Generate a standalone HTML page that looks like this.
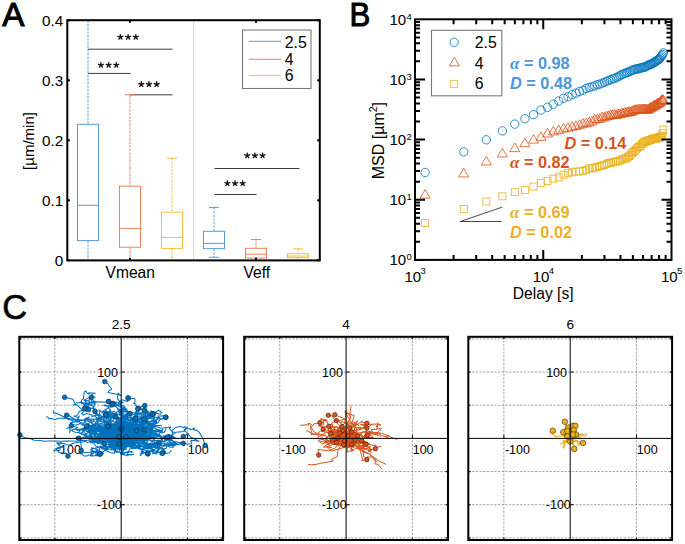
<!DOCTYPE html>
<html><head><meta charset="utf-8"><style>
html,body{margin:0;padding:0;background:#fff;}
svg{display:block;}
text{font-family:"Liberation Sans",sans-serif;}
</style></head><body>
<svg width="685" height="544" viewBox="0 0 685 544">
<rect width="685" height="544" fill="#fff"/>
<text x="2.20" y="26.00" font-size="33.2" text-anchor="start" font-weight="normal" font-style="normal" fill="#000" stroke="#000" stroke-width="1.0">A</text>
<line x1="193.60" y1="20.20" x2="193.60" y2="260.40" stroke="#d9d9d9" stroke-width="1" />
<line x1="88.00" y1="49.20" x2="172.50" y2="49.20" stroke="#3a3a3a" stroke-width="1" />
<line x1="88.00" y1="73.40" x2="130.50" y2="73.40" stroke="#3a3a3a" stroke-width="1" />
<line x1="130.00" y1="94.80" x2="172.50" y2="94.80" stroke="#3a3a3a" stroke-width="1" />
<line x1="214.50" y1="168.50" x2="299.50" y2="168.50" stroke="#3a3a3a" stroke-width="1" />
<line x1="214.50" y1="194.50" x2="256.50" y2="194.50" stroke="#3a3a3a" stroke-width="1" />
<path d="M120.40,37.10l0.00,-2.55M120.40,37.10l2.43,-0.79M120.40,37.10l1.50,2.06M120.40,37.10l-1.50,2.06M120.40,37.10l-2.43,-0.79M128.10,37.10l0.00,-2.55M128.10,37.10l2.43,-0.79M128.10,37.10l1.50,2.06M128.10,37.10l-1.50,2.06M128.10,37.10l-2.43,-0.79M135.80,37.10l0.00,-2.55M135.80,37.10l2.43,-0.79M135.80,37.10l1.50,2.06M135.80,37.10l-1.50,2.06M135.80,37.10l-2.43,-0.79" stroke="#111" stroke-width="1.35" stroke-linecap="round" fill="none"/>
<path d="M100.90,65.10l0.00,-2.55M100.90,65.10l2.43,-0.79M100.90,65.10l1.50,2.06M100.90,65.10l-1.50,2.06M100.90,65.10l-2.43,-0.79M108.60,65.10l0.00,-2.55M108.60,65.10l2.43,-0.79M108.60,65.10l1.50,2.06M108.60,65.10l-1.50,2.06M108.60,65.10l-2.43,-0.79M116.30,65.10l0.00,-2.55M116.30,65.10l2.43,-0.79M116.30,65.10l1.50,2.06M116.30,65.10l-1.50,2.06M116.30,65.10l-2.43,-0.79" stroke="#111" stroke-width="1.35" stroke-linecap="round" fill="none"/>
<path d="M141.30,84.30l0.00,-2.55M141.30,84.30l2.43,-0.79M141.30,84.30l1.50,2.06M141.30,84.30l-1.50,2.06M141.30,84.30l-2.43,-0.79M149.00,84.30l0.00,-2.55M149.00,84.30l2.43,-0.79M149.00,84.30l1.50,2.06M149.00,84.30l-1.50,2.06M149.00,84.30l-2.43,-0.79M156.70,84.30l0.00,-2.55M156.70,84.30l2.43,-0.79M156.70,84.30l1.50,2.06M156.70,84.30l-1.50,2.06M156.70,84.30l-2.43,-0.79" stroke="#111" stroke-width="1.35" stroke-linecap="round" fill="none"/>
<path d="M247.20,155.60l0.00,-2.55M247.20,155.60l2.43,-0.79M247.20,155.60l1.50,2.06M247.20,155.60l-1.50,2.06M247.20,155.60l-2.43,-0.79M254.90,155.60l0.00,-2.55M254.90,155.60l2.43,-0.79M254.90,155.60l1.50,2.06M254.90,155.60l-1.50,2.06M254.90,155.60l-2.43,-0.79M262.60,155.60l0.00,-2.55M262.60,155.60l2.43,-0.79M262.60,155.60l1.50,2.06M262.60,155.60l-1.50,2.06M262.60,155.60l-2.43,-0.79" stroke="#111" stroke-width="1.35" stroke-linecap="round" fill="none"/>
<path d="M227.30,183.40l0.00,-2.55M227.30,183.40l2.43,-0.79M227.30,183.40l1.50,2.06M227.30,183.40l-1.50,2.06M227.30,183.40l-2.43,-0.79M235.00,183.40l0.00,-2.55M235.00,183.40l2.43,-0.79M235.00,183.40l1.50,2.06M235.00,183.40l-1.50,2.06M235.00,183.40l-2.43,-0.79M242.70,183.40l0.00,-2.55M242.70,183.40l2.43,-0.79M242.70,183.40l1.50,2.06M242.70,183.40l-1.50,2.06M242.70,183.40l-2.43,-0.79" stroke="#111" stroke-width="1.35" stroke-linecap="round" fill="none"/>
<line x1="88.00" y1="20.50" x2="88.00" y2="124.30" stroke="#5b9bd5" stroke-width="1" stroke-dasharray="2.4 1.2"/>
<line x1="88.00" y1="240.60" x2="88.00" y2="260.00" stroke="#5b9bd5" stroke-width="1" stroke-dasharray="2.4 1.2"/>
<rect x="77.50" y="124.30" width="21.00" height="116.30" fill="none" stroke="#5b9bd5" stroke-width="1"/>
<line x1="77.50" y1="205.30" x2="98.50" y2="205.30" stroke="#5b9bd5" stroke-width="1" />
<line x1="130.00" y1="94.80" x2="130.00" y2="186.20" stroke="#e8825a" stroke-width="1" stroke-dasharray="2.4 1.2"/>
<line x1="130.00" y1="247.20" x2="130.00" y2="260.00" stroke="#e8825a" stroke-width="1" stroke-dasharray="2.4 1.2"/>
<line x1="125.00" y1="94.80" x2="135.00" y2="94.80" stroke="#e8825a" stroke-width="1" />
<rect x="119.50" y="186.20" width="21.00" height="61.00" fill="none" stroke="#e8825a" stroke-width="1"/>
<line x1="119.50" y1="228.40" x2="140.50" y2="228.40" stroke="#e8825a" stroke-width="1" />
<line x1="172.00" y1="158.20" x2="172.00" y2="212.20" stroke="#f5bf3c" stroke-width="1" stroke-dasharray="2.4 1.2"/>
<line x1="172.00" y1="248.40" x2="172.00" y2="260.00" stroke="#f5bf3c" stroke-width="1" stroke-dasharray="2.4 1.2"/>
<line x1="167.00" y1="158.20" x2="177.00" y2="158.20" stroke="#f5bf3c" stroke-width="1" />
<rect x="161.50" y="212.20" width="21.00" height="36.20" fill="none" stroke="#f5bf3c" stroke-width="1"/>
<line x1="161.50" y1="237.40" x2="182.50" y2="237.40" stroke="#f5bf3c" stroke-width="1" />
<line x1="214.00" y1="207.40" x2="214.00" y2="231.30" stroke="#5b9bd5" stroke-width="1" stroke-dasharray="2.4 1.2"/>
<line x1="214.00" y1="248.60" x2="214.00" y2="257.30" stroke="#5b9bd5" stroke-width="1" stroke-dasharray="2.4 1.2"/>
<line x1="209.00" y1="207.40" x2="219.00" y2="207.40" stroke="#5b9bd5" stroke-width="1" />
<line x1="209.00" y1="257.30" x2="219.00" y2="257.30" stroke="#5b9bd5" stroke-width="1" />
<rect x="203.50" y="231.30" width="21.00" height="17.30" fill="none" stroke="#5b9bd5" stroke-width="1"/>
<line x1="203.50" y1="243.40" x2="224.50" y2="243.40" stroke="#5b9bd5" stroke-width="1" />
<line x1="256.00" y1="239.50" x2="256.00" y2="248.30" stroke="#e8825a" stroke-width="1" stroke-dasharray="2.4 1.2"/>
<line x1="256.00" y1="258.00" x2="256.00" y2="260.00" stroke="#e8825a" stroke-width="1" stroke-dasharray="2.4 1.2"/>
<line x1="251.00" y1="239.50" x2="261.00" y2="239.50" stroke="#e8825a" stroke-width="1" />
<rect x="245.50" y="248.30" width="21.00" height="9.70" fill="none" stroke="#e8825a" stroke-width="1"/>
<line x1="245.50" y1="254.20" x2="266.50" y2="254.20" stroke="#e8825a" stroke-width="1" />
<line x1="298.00" y1="248.80" x2="298.00" y2="253.70" stroke="#f5bf3c" stroke-width="1" stroke-dasharray="2.4 1.2"/>
<line x1="298.00" y1="257.60" x2="298.00" y2="259.00" stroke="#f5bf3c" stroke-width="1" stroke-dasharray="2.4 1.2"/>
<line x1="293.00" y1="248.80" x2="303.00" y2="248.80" stroke="#f5bf3c" stroke-width="1" />
<rect x="287.50" y="253.70" width="21.00" height="3.90" fill="none" stroke="#f5bf3c" stroke-width="1"/>
<line x1="287.50" y1="256.00" x2="308.50" y2="256.00" stroke="#f5bf3c" stroke-width="1" />
<rect x="67.3" y="20.2" width="252.5" height="240.2" fill="none" stroke="#000" stroke-width="2"/>
<line x1="67.30" y1="260.30" x2="69.90" y2="260.30" stroke="#000" stroke-width="2" />
<line x1="317.20" y1="260.30" x2="319.80" y2="260.30" stroke="#000" stroke-width="2" />
<text x="63.30" y="265.70" font-size="15.3" text-anchor="end" font-weight="normal" font-style="normal" fill="#000" >0</text>
<line x1="67.30" y1="200.30" x2="69.90" y2="200.30" stroke="#000" stroke-width="2" />
<line x1="317.20" y1="200.30" x2="319.80" y2="200.30" stroke="#000" stroke-width="2" />
<text x="63.30" y="205.70" font-size="15.3" text-anchor="end" font-weight="normal" font-style="normal" fill="#000" >0.1</text>
<line x1="67.30" y1="140.30" x2="69.90" y2="140.30" stroke="#000" stroke-width="2" />
<line x1="317.20" y1="140.30" x2="319.80" y2="140.30" stroke="#000" stroke-width="2" />
<text x="63.30" y="145.70" font-size="15.3" text-anchor="end" font-weight="normal" font-style="normal" fill="#000" >0.2</text>
<line x1="67.30" y1="80.30" x2="69.90" y2="80.30" stroke="#000" stroke-width="2" />
<line x1="317.20" y1="80.30" x2="319.80" y2="80.30" stroke="#000" stroke-width="2" />
<text x="63.30" y="85.70" font-size="15.3" text-anchor="end" font-weight="normal" font-style="normal" fill="#000" >0.3</text>
<line x1="67.30" y1="20.30" x2="69.90" y2="20.30" stroke="#000" stroke-width="2" />
<line x1="317.20" y1="20.30" x2="319.80" y2="20.30" stroke="#000" stroke-width="2" />
<text x="63.30" y="25.70" font-size="15.3" text-anchor="end" font-weight="normal" font-style="normal" fill="#000" >0.4</text>
<line x1="130.00" y1="20.20" x2="130.00" y2="22.80" stroke="#000" stroke-width="2" />
<line x1="130.00" y1="257.80" x2="130.00" y2="260.40" stroke="#000" stroke-width="2" />
<line x1="256.00" y1="20.20" x2="256.00" y2="22.80" stroke="#000" stroke-width="2" />
<line x1="256.00" y1="257.80" x2="256.00" y2="260.40" stroke="#000" stroke-width="2" />
<text x="130.20" y="278.00" font-size="15.6" text-anchor="middle" font-weight="normal" font-style="normal" fill="#000" >Vmean</text>
<text x="256.80" y="278.10" font-size="15.6" text-anchor="middle" font-weight="normal" font-style="normal" fill="#000" >Veff</text>
<text x="0.00" y="0.00" font-size="15" text-anchor="middle" font-weight="normal" font-style="normal" fill="#000" transform="translate(33.8,141) rotate(-90)">[&#181;m/min]</text>
<rect x="242.5" y="30" width="68.5" height="58.5" fill="#fff" stroke="#7a7a7a" stroke-width="1.1"/>
<line x1="248.70" y1="41.30" x2="281.00" y2="41.30" stroke="#5b9bd5" stroke-width="1" />
<line x1="248.70" y1="59.30" x2="281.00" y2="59.30" stroke="#e8825a" stroke-width="1" />
<line x1="248.70" y1="75.40" x2="281.00" y2="75.40" stroke="#f5bf3c" stroke-width="1" />
<text x="284.80" y="47.50" font-size="15.8" text-anchor="start" font-weight="normal" font-style="normal" fill="#000" >2.5</text>
<text x="284.80" y="65.10" font-size="15.8" text-anchor="start" font-weight="normal" font-style="normal" fill="#000" >4</text>
<text x="284.80" y="81.10" font-size="15.8" text-anchor="start" font-weight="normal" font-style="normal" fill="#000" >6</text>
<text x="0.00" y="0.00" font-size="33.2" text-anchor="start" font-weight="normal" font-style="normal" fill="#000" stroke="#000" stroke-width="1.0" transform="translate(349.4,26.1) scale(0.94,1)">B</text>
<g><rect x="421.65" y="219.40" width="7.0" height="7.0" fill="none" stroke="#edb120" stroke-width="0.8"/><rect x="460.26" y="205.35" width="7.0" height="7.0" fill="none" stroke="#edb120" stroke-width="0.8"/><rect x="482.85" y="197.96" width="7.0" height="7.0" fill="none" stroke="#edb120" stroke-width="0.8"/><rect x="498.87" y="192.83" width="7.0" height="7.0" fill="none" stroke="#edb120" stroke-width="0.8"/><rect x="511.30" y="188.67" width="7.0" height="7.0" fill="none" stroke="#edb120" stroke-width="0.8"/><rect x="521.45" y="186.63" width="7.0" height="7.0" fill="none" stroke="#edb120" stroke-width="0.8"/><rect x="530.04" y="183.01" width="7.0" height="7.0" fill="none" stroke="#edb120" stroke-width="0.8"/><rect x="537.48" y="179.53" width="7.0" height="7.0" fill="none" stroke="#edb120" stroke-width="0.8"/><rect x="544.04" y="177.36" width="7.0" height="7.0" fill="none" stroke="#edb120" stroke-width="0.8"/><rect x="549.90" y="175.16" width="7.0" height="7.0" fill="none" stroke="#edb120" stroke-width="0.8"/><rect x="555.21" y="173.85" width="7.0" height="7.0" fill="none" stroke="#edb120" stroke-width="0.8"/><rect x="560.06" y="171.19" width="7.0" height="7.0" fill="none" stroke="#edb120" stroke-width="0.8"/><rect x="564.52" y="169.74" width="7.0" height="7.0" fill="none" stroke="#edb120" stroke-width="0.8"/><rect x="568.65" y="168.77" width="7.0" height="7.0" fill="none" stroke="#edb120" stroke-width="0.8"/><rect x="572.49" y="168.05" width="7.0" height="7.0" fill="none" stroke="#edb120" stroke-width="0.8"/><rect x="576.08" y="168.07" width="7.0" height="7.0" fill="none" stroke="#edb120" stroke-width="0.8"/><rect x="579.46" y="167.59" width="7.0" height="7.0" fill="none" stroke="#edb120" stroke-width="0.8"/><rect x="582.64" y="166.61" width="7.0" height="7.0" fill="none" stroke="#edb120" stroke-width="0.8"/><rect x="585.66" y="165.05" width="7.0" height="7.0" fill="none" stroke="#edb120" stroke-width="0.8"/><rect x="588.51" y="164.78" width="7.0" height="7.0" fill="none" stroke="#edb120" stroke-width="0.8"/><rect x="591.23" y="164.23" width="7.0" height="7.0" fill="none" stroke="#edb120" stroke-width="0.8"/><rect x="593.82" y="163.36" width="7.0" height="7.0" fill="none" stroke="#edb120" stroke-width="0.8"/><rect x="596.30" y="162.73" width="7.0" height="7.0" fill="none" stroke="#edb120" stroke-width="0.8"/><rect x="598.67" y="162.12" width="7.0" height="7.0" fill="none" stroke="#edb120" stroke-width="0.8"/><rect x="600.94" y="161.43" width="7.0" height="7.0" fill="none" stroke="#edb120" stroke-width="0.8"/><rect x="603.13" y="160.50" width="7.0" height="7.0" fill="none" stroke="#edb120" stroke-width="0.8"/><rect x="605.23" y="159.45" width="7.0" height="7.0" fill="none" stroke="#edb120" stroke-width="0.8"/><rect x="607.25" y="159.53" width="7.0" height="7.0" fill="none" stroke="#edb120" stroke-width="0.8"/><rect x="609.21" y="158.65" width="7.0" height="7.0" fill="none" stroke="#edb120" stroke-width="0.8"/><rect x="611.10" y="158.22" width="7.0" height="7.0" fill="none" stroke="#edb120" stroke-width="0.8"/><rect x="612.92" y="158.13" width="7.0" height="7.0" fill="none" stroke="#edb120" stroke-width="0.8"/><rect x="614.69" y="157.27" width="7.0" height="7.0" fill="none" stroke="#edb120" stroke-width="0.8"/><rect x="616.40" y="157.22" width="7.0" height="7.0" fill="none" stroke="#edb120" stroke-width="0.8"/><rect x="618.07" y="155.90" width="7.0" height="7.0" fill="none" stroke="#edb120" stroke-width="0.8"/><rect x="619.68" y="155.68" width="7.0" height="7.0" fill="none" stroke="#edb120" stroke-width="0.8"/><rect x="621.25" y="154.95" width="7.0" height="7.0" fill="none" stroke="#edb120" stroke-width="0.8"/><rect x="622.78" y="154.93" width="7.0" height="7.0" fill="none" stroke="#edb120" stroke-width="0.8"/><rect x="624.26" y="153.53" width="7.0" height="7.0" fill="none" stroke="#edb120" stroke-width="0.8"/><rect x="625.71" y="152.67" width="7.0" height="7.0" fill="none" stroke="#edb120" stroke-width="0.8"/><rect x="627.12" y="151.46" width="7.0" height="7.0" fill="none" stroke="#edb120" stroke-width="0.8"/><rect x="628.49" y="149.69" width="7.0" height="7.0" fill="none" stroke="#edb120" stroke-width="0.8"/><rect x="629.84" y="148.60" width="7.0" height="7.0" fill="none" stroke="#edb120" stroke-width="0.8"/><rect x="631.15" y="147.59" width="7.0" height="7.0" fill="none" stroke="#edb120" stroke-width="0.8"/><rect x="632.43" y="146.12" width="7.0" height="7.0" fill="none" stroke="#edb120" stroke-width="0.8"/><rect x="633.68" y="144.75" width="7.0" height="7.0" fill="none" stroke="#edb120" stroke-width="0.8"/><rect x="634.90" y="143.64" width="7.0" height="7.0" fill="none" stroke="#edb120" stroke-width="0.8"/><rect x="636.10" y="142.70" width="7.0" height="7.0" fill="none" stroke="#edb120" stroke-width="0.8"/><rect x="637.27" y="142.40" width="7.0" height="7.0" fill="none" stroke="#edb120" stroke-width="0.8"/><rect x="638.42" y="140.59" width="7.0" height="7.0" fill="none" stroke="#edb120" stroke-width="0.8"/><rect x="639.55" y="139.87" width="7.0" height="7.0" fill="none" stroke="#edb120" stroke-width="0.8"/><rect x="640.65" y="138.76" width="7.0" height="7.0" fill="none" stroke="#edb120" stroke-width="0.8"/><rect x="641.73" y="138.03" width="7.0" height="7.0" fill="none" stroke="#edb120" stroke-width="0.8"/><rect x="642.79" y="137.98" width="7.0" height="7.0" fill="none" stroke="#edb120" stroke-width="0.8"/><rect x="643.83" y="137.73" width="7.0" height="7.0" fill="none" stroke="#edb120" stroke-width="0.8"/><rect x="644.86" y="136.78" width="7.0" height="7.0" fill="none" stroke="#edb120" stroke-width="0.8"/><rect x="645.86" y="136.99" width="7.0" height="7.0" fill="none" stroke="#edb120" stroke-width="0.8"/><rect x="646.85" y="136.62" width="7.0" height="7.0" fill="none" stroke="#edb120" stroke-width="0.8"/><rect x="647.81" y="136.25" width="7.0" height="7.0" fill="none" stroke="#edb120" stroke-width="0.8"/><rect x="648.77" y="135.45" width="7.0" height="7.0" fill="none" stroke="#edb120" stroke-width="0.8"/><rect x="649.70" y="135.02" width="7.0" height="7.0" fill="none" stroke="#edb120" stroke-width="0.8"/><rect x="650.62" y="135.03" width="7.0" height="7.0" fill="none" stroke="#edb120" stroke-width="0.8"/><rect x="651.53" y="135.00" width="7.0" height="7.0" fill="none" stroke="#edb120" stroke-width="0.8"/><rect x="652.42" y="135.29" width="7.0" height="7.0" fill="none" stroke="#edb120" stroke-width="0.8"/><rect x="653.30" y="134.35" width="7.0" height="7.0" fill="none" stroke="#edb120" stroke-width="0.8"/><rect x="654.16" y="134.48" width="7.0" height="7.0" fill="none" stroke="#edb120" stroke-width="0.8"/><rect x="655.01" y="134.07" width="7.0" height="7.0" fill="none" stroke="#edb120" stroke-width="0.8"/><rect x="655.85" y="133.41" width="7.0" height="7.0" fill="none" stroke="#edb120" stroke-width="0.8"/><rect x="656.67" y="133.84" width="7.0" height="7.0" fill="none" stroke="#edb120" stroke-width="0.8"/><rect x="657.49" y="132.98" width="7.0" height="7.0" fill="none" stroke="#edb120" stroke-width="0.8"/><rect x="658.29" y="132.02" width="7.0" height="7.0" fill="none" stroke="#edb120" stroke-width="0.8"/><rect x="659.08" y="129.73" width="7.0" height="7.0" fill="none" stroke="#edb120" stroke-width="0.8"/><rect x="659.86" y="126.14" width="7.0" height="7.0" fill="none" stroke="#edb120" stroke-width="0.8"/></g>
<g><path d="M425.15,189.56 L430.15,198.16 L420.15,198.16 Z" fill="none" stroke="#d95319" stroke-width="0.8"/><path d="M463.76,168.34 L468.76,176.94 L458.76,176.94 Z" fill="none" stroke="#d95319" stroke-width="0.8"/><path d="M486.35,156.39 L491.35,164.99 L481.35,164.99 Z" fill="none" stroke="#d95319" stroke-width="0.8"/><path d="M502.37,148.39 L507.37,156.99 L497.37,156.99 Z" fill="none" stroke="#d95319" stroke-width="0.8"/><path d="M514.80,143.03 L519.80,151.63 L509.80,151.63 Z" fill="none" stroke="#d95319" stroke-width="0.8"/><path d="M524.95,138.13 L529.95,146.73 L519.95,146.73 Z" fill="none" stroke="#d95319" stroke-width="0.8"/><path d="M533.54,134.54 L538.54,143.14 L528.54,143.14 Z" fill="none" stroke="#d95319" stroke-width="0.8"/><path d="M540.98,131.79 L545.98,140.39 L535.98,140.39 Z" fill="none" stroke="#d95319" stroke-width="0.8"/><path d="M547.54,128.38 L552.54,136.98 L542.54,136.98 Z" fill="none" stroke="#d95319" stroke-width="0.8"/><path d="M553.40,126.36 L558.40,134.96 L548.40,134.96 Z" fill="none" stroke="#d95319" stroke-width="0.8"/><path d="M558.71,125.09 L563.71,133.69 L553.71,133.69 Z" fill="none" stroke="#d95319" stroke-width="0.8"/><path d="M563.56,123.48 L568.56,132.08 L558.56,132.08 Z" fill="none" stroke="#d95319" stroke-width="0.8"/><path d="M568.02,122.65 L573.02,131.25 L563.02,131.25 Z" fill="none" stroke="#d95319" stroke-width="0.8"/><path d="M572.15,121.57 L577.15,130.17 L567.15,130.17 Z" fill="none" stroke="#d95319" stroke-width="0.8"/><path d="M575.99,120.84 L580.99,129.44 L570.99,129.44 Z" fill="none" stroke="#d95319" stroke-width="0.8"/><path d="M579.58,119.76 L584.58,128.36 L574.58,128.36 Z" fill="none" stroke="#d95319" stroke-width="0.8"/><path d="M582.96,118.67 L587.96,127.27 L577.96,127.27 Z" fill="none" stroke="#d95319" stroke-width="0.8"/><path d="M586.14,117.99 L591.14,126.59 L581.14,126.59 Z" fill="none" stroke="#d95319" stroke-width="0.8"/><path d="M589.16,117.30 L594.16,125.90 L584.16,125.90 Z" fill="none" stroke="#d95319" stroke-width="0.8"/><path d="M592.01,116.32 L597.01,124.92 L587.01,124.92 Z" fill="none" stroke="#d95319" stroke-width="0.8"/><path d="M594.73,114.45 L599.73,123.05 L589.73,123.05 Z" fill="none" stroke="#d95319" stroke-width="0.8"/><path d="M597.32,113.93 L602.32,122.53 L592.32,122.53 Z" fill="none" stroke="#d95319" stroke-width="0.8"/><path d="M599.80,113.59 L604.80,122.19 L594.80,122.19 Z" fill="none" stroke="#d95319" stroke-width="0.8"/><path d="M602.17,112.04 L607.17,120.64 L597.17,120.64 Z" fill="none" stroke="#d95319" stroke-width="0.8"/><path d="M604.44,112.33 L609.44,120.93 L599.44,120.93 Z" fill="none" stroke="#d95319" stroke-width="0.8"/><path d="M606.63,111.11 L611.63,119.71 L601.63,119.71 Z" fill="none" stroke="#d95319" stroke-width="0.8"/><path d="M608.73,110.80 L613.73,119.40 L603.73,119.40 Z" fill="none" stroke="#d95319" stroke-width="0.8"/><path d="M610.75,110.03 L615.75,118.63 L605.75,118.63 Z" fill="none" stroke="#d95319" stroke-width="0.8"/><path d="M612.71,109.87 L617.71,118.47 L607.71,118.47 Z" fill="none" stroke="#d95319" stroke-width="0.8"/><path d="M614.60,109.36 L619.60,117.96 L609.60,117.96 Z" fill="none" stroke="#d95319" stroke-width="0.8"/><path d="M616.42,109.84 L621.42,118.44 L611.42,118.44 Z" fill="none" stroke="#d95319" stroke-width="0.8"/><path d="M618.19,108.92 L623.19,117.52 L613.19,117.52 Z" fill="none" stroke="#d95319" stroke-width="0.8"/><path d="M619.90,109.19 L624.90,117.79 L614.90,117.79 Z" fill="none" stroke="#d95319" stroke-width="0.8"/><path d="M621.57,108.15 L626.57,116.75 L616.57,116.75 Z" fill="none" stroke="#d95319" stroke-width="0.8"/><path d="M623.18,108.14 L628.18,116.74 L618.18,116.74 Z" fill="none" stroke="#d95319" stroke-width="0.8"/><path d="M624.75,107.34 L629.75,115.94 L619.75,115.94 Z" fill="none" stroke="#d95319" stroke-width="0.8"/><path d="M626.28,107.60 L631.28,116.20 L621.28,116.20 Z" fill="none" stroke="#d95319" stroke-width="0.8"/><path d="M627.76,107.26 L632.76,115.86 L622.76,115.86 Z" fill="none" stroke="#d95319" stroke-width="0.8"/><path d="M629.21,106.51 L634.21,115.11 L624.21,115.11 Z" fill="none" stroke="#d95319" stroke-width="0.8"/><path d="M630.62,107.00 L635.62,115.60 L625.62,115.60 Z" fill="none" stroke="#d95319" stroke-width="0.8"/><path d="M631.99,106.13 L636.99,114.73 L626.99,114.73 Z" fill="none" stroke="#d95319" stroke-width="0.8"/><path d="M633.34,105.40 L638.34,114.00 L628.34,114.00 Z" fill="none" stroke="#d95319" stroke-width="0.8"/><path d="M634.65,105.13 L639.65,113.73 L629.65,113.73 Z" fill="none" stroke="#d95319" stroke-width="0.8"/><path d="M635.93,104.60 L640.93,113.20 L630.93,113.20 Z" fill="none" stroke="#d95319" stroke-width="0.8"/><path d="M637.18,104.60 L642.18,113.20 L632.18,113.20 Z" fill="none" stroke="#d95319" stroke-width="0.8"/><path d="M638.40,104.50 L643.40,113.10 L633.40,113.10 Z" fill="none" stroke="#d95319" stroke-width="0.8"/><path d="M639.60,103.96 L644.60,112.56 L634.60,112.56 Z" fill="none" stroke="#d95319" stroke-width="0.8"/><path d="M640.77,104.52 L645.77,113.12 L635.77,113.12 Z" fill="none" stroke="#d95319" stroke-width="0.8"/><path d="M641.92,104.21 L646.92,112.81 L636.92,112.81 Z" fill="none" stroke="#d95319" stroke-width="0.8"/><path d="M643.05,104.12 L648.05,112.72 L638.05,112.72 Z" fill="none" stroke="#d95319" stroke-width="0.8"/><path d="M644.15,103.99 L649.15,112.59 L639.15,112.59 Z" fill="none" stroke="#d95319" stroke-width="0.8"/><path d="M645.23,104.41 L650.23,113.01 L640.23,113.01 Z" fill="none" stroke="#d95319" stroke-width="0.8"/><path d="M646.29,103.96 L651.29,112.56 L641.29,112.56 Z" fill="none" stroke="#d95319" stroke-width="0.8"/><path d="M647.33,104.85 L652.33,113.45 L642.33,113.45 Z" fill="none" stroke="#d95319" stroke-width="0.8"/><path d="M648.36,103.91 L653.36,112.51 L643.36,112.51 Z" fill="none" stroke="#d95319" stroke-width="0.8"/><path d="M649.36,103.47 L654.36,112.07 L644.36,112.07 Z" fill="none" stroke="#d95319" stroke-width="0.8"/><path d="M650.35,102.57 L655.35,111.17 L645.35,111.17 Z" fill="none" stroke="#d95319" stroke-width="0.8"/><path d="M651.31,102.61 L656.31,111.21 L646.31,111.21 Z" fill="none" stroke="#d95319" stroke-width="0.8"/><path d="M652.27,101.92 L657.27,110.52 L647.27,110.52 Z" fill="none" stroke="#d95319" stroke-width="0.8"/><path d="M653.20,100.97 L658.20,109.57 L648.20,109.57 Z" fill="none" stroke="#d95319" stroke-width="0.8"/><path d="M654.12,100.37 L659.12,108.97 L649.12,108.97 Z" fill="none" stroke="#d95319" stroke-width="0.8"/><path d="M655.03,100.53 L660.03,109.13 L650.03,109.13 Z" fill="none" stroke="#d95319" stroke-width="0.8"/><path d="M655.92,100.05 L660.92,108.65 L650.92,108.65 Z" fill="none" stroke="#d95319" stroke-width="0.8"/><path d="M656.80,98.79 L661.80,107.39 L651.80,107.39 Z" fill="none" stroke="#d95319" stroke-width="0.8"/><path d="M657.66,98.28 L662.66,106.88 L652.66,106.88 Z" fill="none" stroke="#d95319" stroke-width="0.8"/><path d="M658.51,98.43 L663.51,107.03 L653.51,107.03 Z" fill="none" stroke="#d95319" stroke-width="0.8"/><path d="M659.35,97.86 L664.35,106.46 L654.35,106.46 Z" fill="none" stroke="#d95319" stroke-width="0.8"/><path d="M660.17,97.17 L665.17,105.77 L655.17,105.77 Z" fill="none" stroke="#d95319" stroke-width="0.8"/><path d="M660.99,95.95 L665.99,104.55 L655.99,104.55 Z" fill="none" stroke="#d95319" stroke-width="0.8"/><path d="M661.79,95.04 L666.79,103.64 L656.79,103.64 Z" fill="none" stroke="#d95319" stroke-width="0.8"/><path d="M662.58,94.65 L667.58,103.25 L657.58,103.25 Z" fill="none" stroke="#d95319" stroke-width="0.8"/><path d="M663.36,95.12 L668.36,103.72 L658.36,103.72 Z" fill="none" stroke="#d95319" stroke-width="0.8"/></g>
<g><circle cx="425.15" cy="172.48" r="4.2" fill="none" stroke="#0072bd" stroke-width="0.8"/><circle cx="463.76" cy="151.86" r="4.2" fill="none" stroke="#0072bd" stroke-width="0.8"/><circle cx="486.35" cy="139.80" r="4.2" fill="none" stroke="#0072bd" stroke-width="0.8"/><circle cx="502.37" cy="130.86" r="4.2" fill="none" stroke="#0072bd" stroke-width="0.8"/><circle cx="514.80" cy="124.14" r="4.2" fill="none" stroke="#0072bd" stroke-width="0.8"/><circle cx="524.95" cy="118.75" r="4.2" fill="none" stroke="#0072bd" stroke-width="0.8"/><circle cx="533.54" cy="114.64" r="4.2" fill="none" stroke="#0072bd" stroke-width="0.8"/><circle cx="540.98" cy="110.01" r="4.2" fill="none" stroke="#0072bd" stroke-width="0.8"/><circle cx="547.54" cy="107.29" r="4.2" fill="none" stroke="#0072bd" stroke-width="0.8"/><circle cx="553.40" cy="104.25" r="4.2" fill="none" stroke="#0072bd" stroke-width="0.8"/><circle cx="558.71" cy="101.04" r="4.2" fill="none" stroke="#0072bd" stroke-width="0.8"/><circle cx="563.56" cy="98.31" r="4.2" fill="none" stroke="#0072bd" stroke-width="0.8"/><circle cx="568.02" cy="96.72" r="4.2" fill="none" stroke="#0072bd" stroke-width="0.8"/><circle cx="572.15" cy="94.71" r="4.2" fill="none" stroke="#0072bd" stroke-width="0.8"/><circle cx="575.99" cy="93.14" r="4.2" fill="none" stroke="#0072bd" stroke-width="0.8"/><circle cx="579.58" cy="91.54" r="4.2" fill="none" stroke="#0072bd" stroke-width="0.8"/><circle cx="582.96" cy="90.32" r="4.2" fill="none" stroke="#0072bd" stroke-width="0.8"/><circle cx="586.14" cy="88.56" r="4.2" fill="none" stroke="#0072bd" stroke-width="0.8"/><circle cx="589.16" cy="87.39" r="4.2" fill="none" stroke="#0072bd" stroke-width="0.8"/><circle cx="592.01" cy="86.67" r="4.2" fill="none" stroke="#0072bd" stroke-width="0.8"/><circle cx="594.73" cy="85.87" r="4.2" fill="none" stroke="#0072bd" stroke-width="0.8"/><circle cx="597.32" cy="84.75" r="4.2" fill="none" stroke="#0072bd" stroke-width="0.8"/><circle cx="599.80" cy="84.09" r="4.2" fill="none" stroke="#0072bd" stroke-width="0.8"/><circle cx="602.17" cy="83.13" r="4.2" fill="none" stroke="#0072bd" stroke-width="0.8"/><circle cx="604.44" cy="82.33" r="4.2" fill="none" stroke="#0072bd" stroke-width="0.8"/><circle cx="606.63" cy="81.29" r="4.2" fill="none" stroke="#0072bd" stroke-width="0.8"/><circle cx="608.73" cy="80.36" r="4.2" fill="none" stroke="#0072bd" stroke-width="0.8"/><circle cx="610.75" cy="79.65" r="4.2" fill="none" stroke="#0072bd" stroke-width="0.8"/><circle cx="612.71" cy="78.77" r="4.2" fill="none" stroke="#0072bd" stroke-width="0.8"/><circle cx="614.60" cy="78.51" r="4.2" fill="none" stroke="#0072bd" stroke-width="0.8"/><circle cx="616.42" cy="77.42" r="4.2" fill="none" stroke="#0072bd" stroke-width="0.8"/><circle cx="618.19" cy="76.87" r="4.2" fill="none" stroke="#0072bd" stroke-width="0.8"/><circle cx="619.90" cy="75.69" r="4.2" fill="none" stroke="#0072bd" stroke-width="0.8"/><circle cx="621.57" cy="74.76" r="4.2" fill="none" stroke="#0072bd" stroke-width="0.8"/><circle cx="623.18" cy="74.09" r="4.2" fill="none" stroke="#0072bd" stroke-width="0.8"/><circle cx="624.75" cy="73.41" r="4.2" fill="none" stroke="#0072bd" stroke-width="0.8"/><circle cx="626.28" cy="72.80" r="4.2" fill="none" stroke="#0072bd" stroke-width="0.8"/><circle cx="627.76" cy="72.38" r="4.2" fill="none" stroke="#0072bd" stroke-width="0.8"/><circle cx="629.21" cy="71.71" r="4.2" fill="none" stroke="#0072bd" stroke-width="0.8"/><circle cx="630.62" cy="71.15" r="4.2" fill="none" stroke="#0072bd" stroke-width="0.8"/><circle cx="631.99" cy="70.22" r="4.2" fill="none" stroke="#0072bd" stroke-width="0.8"/><circle cx="633.34" cy="70.08" r="4.2" fill="none" stroke="#0072bd" stroke-width="0.8"/><circle cx="634.65" cy="69.42" r="4.2" fill="none" stroke="#0072bd" stroke-width="0.8"/><circle cx="635.93" cy="68.98" r="4.2" fill="none" stroke="#0072bd" stroke-width="0.8"/><circle cx="637.18" cy="68.71" r="4.2" fill="none" stroke="#0072bd" stroke-width="0.8"/><circle cx="638.40" cy="69.03" r="4.2" fill="none" stroke="#0072bd" stroke-width="0.8"/><circle cx="639.60" cy="68.24" r="4.2" fill="none" stroke="#0072bd" stroke-width="0.8"/><circle cx="640.77" cy="67.84" r="4.2" fill="none" stroke="#0072bd" stroke-width="0.8"/><circle cx="641.92" cy="67.84" r="4.2" fill="none" stroke="#0072bd" stroke-width="0.8"/><circle cx="643.05" cy="67.26" r="4.2" fill="none" stroke="#0072bd" stroke-width="0.8"/><circle cx="644.15" cy="67.34" r="4.2" fill="none" stroke="#0072bd" stroke-width="0.8"/><circle cx="645.23" cy="66.95" r="4.2" fill="none" stroke="#0072bd" stroke-width="0.8"/><circle cx="646.29" cy="66.14" r="4.2" fill="none" stroke="#0072bd" stroke-width="0.8"/><circle cx="647.33" cy="66.01" r="4.2" fill="none" stroke="#0072bd" stroke-width="0.8"/><circle cx="648.36" cy="64.97" r="4.2" fill="none" stroke="#0072bd" stroke-width="0.8"/><circle cx="649.36" cy="64.93" r="4.2" fill="none" stroke="#0072bd" stroke-width="0.8"/><circle cx="650.35" cy="64.12" r="4.2" fill="none" stroke="#0072bd" stroke-width="0.8"/><circle cx="651.31" cy="64.21" r="4.2" fill="none" stroke="#0072bd" stroke-width="0.8"/><circle cx="652.27" cy="63.64" r="4.2" fill="none" stroke="#0072bd" stroke-width="0.8"/><circle cx="653.20" cy="62.98" r="4.2" fill="none" stroke="#0072bd" stroke-width="0.8"/><circle cx="654.12" cy="62.14" r="4.2" fill="none" stroke="#0072bd" stroke-width="0.8"/><circle cx="655.03" cy="62.06" r="4.2" fill="none" stroke="#0072bd" stroke-width="0.8"/><circle cx="655.92" cy="61.65" r="4.2" fill="none" stroke="#0072bd" stroke-width="0.8"/><circle cx="656.80" cy="60.59" r="4.2" fill="none" stroke="#0072bd" stroke-width="0.8"/><circle cx="657.66" cy="59.87" r="4.2" fill="none" stroke="#0072bd" stroke-width="0.8"/><circle cx="658.51" cy="59.86" r="4.2" fill="none" stroke="#0072bd" stroke-width="0.8"/><circle cx="659.35" cy="59.09" r="4.2" fill="none" stroke="#0072bd" stroke-width="0.8"/><circle cx="660.17" cy="58.05" r="4.2" fill="none" stroke="#0072bd" stroke-width="0.8"/><circle cx="660.99" cy="56.87" r="4.2" fill="none" stroke="#0072bd" stroke-width="0.8"/><circle cx="661.79" cy="55.67" r="4.2" fill="none" stroke="#0072bd" stroke-width="0.8"/><circle cx="662.58" cy="54.50" r="4.2" fill="none" stroke="#0072bd" stroke-width="0.8"/><circle cx="663.36" cy="52.86" r="4.2" fill="none" stroke="#0072bd" stroke-width="0.8"/></g>
<line x1="460.30" y1="221.50" x2="502.20" y2="207.10" stroke="#333" stroke-width="0.9" />
<line x1="460.30" y1="221.50" x2="501.50" y2="221.50" stroke="#333" stroke-width="0.9" />
<text x="510.00" y="69.10" font-size="16.3" font-weight="bold" fill="#4b98d2"><tspan font-family="Liberation Serif, serif" font-style="italic" font-size="17">&#945;</tspan> = 0.98</text>
<text x="510.00" y="89.00" font-size="16.3" font-weight="bold" fill="#4b98d2"><tspan font-style="italic">D</tspan> = 0.48</text>
<text x="564.40" y="148.60" font-size="16.3" font-weight="bold" fill="#d4561e"><tspan font-style="italic">D</tspan> = 0.14</text>
<text x="510.00" y="168.00" font-size="16.3" font-weight="bold" fill="#d4561e"><tspan font-family="Liberation Serif, serif" font-style="italic" font-size="17">&#945;</tspan> = 0.82</text>
<text x="510.00" y="217.60" font-size="16.3" font-weight="bold" fill="#ebb02a"><tspan font-family="Liberation Serif, serif" font-style="italic" font-size="17">&#945;</tspan> = 0.69</text>
<text x="510.00" y="237.80" font-size="16.3" font-weight="bold" fill="#ebb02a"><tspan font-style="italic">D</tspan> = 0.02</text>
<rect x="415.0" y="19.3" width="256.5" height="240.59999999999997" fill="none" stroke="#000" stroke-width="2"/>
<path d="M415.0,259.90h10M671.5,259.90h-10M415.0,241.79h5M671.5,241.79h-5M415.0,231.20h5M671.5,231.20h-5M415.0,223.69h5M671.5,223.69h-5M415.0,217.86h5M671.5,217.86h-5M415.0,213.09h5M671.5,213.09h-5M415.0,209.07h5M671.5,209.07h-5M415.0,205.58h5M671.5,205.58h-5M415.0,202.50h5M671.5,202.50h-5M415.0,199.75h10M671.5,199.75h-10M415.0,181.64h5M671.5,181.64h-5M415.0,171.05h5M671.5,171.05h-5M415.0,163.54h5M671.5,163.54h-5M415.0,157.71h5M671.5,157.71h-5M415.0,152.94h5M671.5,152.94h-5M415.0,148.92h5M671.5,148.92h-5M415.0,145.43h5M671.5,145.43h-5M415.0,142.35h5M671.5,142.35h-5M415.0,139.60h10M671.5,139.60h-10M415.0,121.49h5M671.5,121.49h-5M415.0,110.90h5M671.5,110.90h-5M415.0,103.39h5M671.5,103.39h-5M415.0,97.56h5M671.5,97.56h-5M415.0,92.79h5M671.5,92.79h-5M415.0,88.77h5M671.5,88.77h-5M415.0,85.28h5M671.5,85.28h-5M415.0,82.20h5M671.5,82.20h-5M415.0,79.45h10M671.5,79.45h-10M415.0,61.34h5M671.5,61.34h-5M415.0,50.75h5M671.5,50.75h-5M415.0,43.24h5M671.5,43.24h-5M415.0,37.41h5M671.5,37.41h-5M415.0,32.64h5M671.5,32.64h-5M415.0,28.62h5M671.5,28.62h-5M415.0,25.13h5M671.5,25.13h-5M415.0,22.05h5M671.5,22.05h-5M415.00,259.9v-10M415.00,19.3v10M453.61,259.9v-5M453.61,19.3v5M476.19,259.9v-5M476.19,19.3v5M492.21,259.9v-5M492.21,19.3v5M504.64,259.9v-5M504.64,19.3v5M514.80,259.9v-5M514.80,19.3v5M523.38,259.9v-5M523.38,19.3v5M530.82,259.9v-5M530.82,19.3v5M537.38,259.9v-5M537.38,19.3v5M543.25,259.9v-10M543.25,19.3v10M581.86,259.9v-5M581.86,19.3v5M604.44,259.9v-5M604.44,19.3v5M620.46,259.9v-5M620.46,19.3v5M632.89,259.9v-5M632.89,19.3v5M643.05,259.9v-5M643.05,19.3v5M651.63,259.9v-5M651.63,19.3v5M659.07,259.9v-5M659.07,19.3v5M665.63,259.9v-5M665.63,19.3v5" stroke="#000" stroke-width="2" fill="none"/>
<text x="406.2" y="265.20" font-size="15" text-anchor="end">10</text>
<text x="406.4" y="260.10" font-size="9.5">0</text>
<text x="406.2" y="205.05" font-size="15" text-anchor="end">10</text>
<text x="406.4" y="199.95" font-size="9.5">1</text>
<text x="406.2" y="144.90" font-size="15" text-anchor="end">10</text>
<text x="406.4" y="139.80" font-size="9.5">2</text>
<text x="406.2" y="84.75" font-size="15" text-anchor="end">10</text>
<text x="406.4" y="79.65" font-size="9.5">3</text>
<text x="406.2" y="24.60" font-size="15" text-anchor="end">10</text>
<text x="406.4" y="19.50" font-size="9.5">4</text>
<text x="404.40" y="281.50" font-size="15">10</text>
<text x="420.50" y="273.60" font-size="9.5">3</text>
<text x="532.65" y="281.50" font-size="15">10</text>
<text x="548.75" y="273.60" font-size="9.5">4</text>
<text x="660.90" y="281.50" font-size="15">10</text>
<text x="677.00" y="273.60" font-size="9.5">5</text>
<text x="543.20" y="299.30" font-size="15.6" text-anchor="middle" font-weight="normal" font-style="normal" fill="#000" >Delay [s]</text>
<text transform="translate(384.2,140.6) rotate(-90)" font-size="16" text-anchor="middle">MSD [&#181;m<tspan font-size="10.5" dy="-7.5">2</tspan><tspan dy="7.5">]</tspan></text>
<rect x="431.5" y="30.3" width="70.3" height="65.5" fill="#fff" stroke="#7a7a7a" stroke-width="1.1"/>
<circle cx="454.2" cy="42.3" r="4.2" fill="none" stroke="#0072bd" stroke-width="0.8"/>
<path d="M454.40,57.30 L459.40,65.90 L449.40,65.90 Z" fill="none" stroke="#d95319" stroke-width="0.8"/>
<rect x="450.70" y="80.30" width="7.0" height="7.0" fill="none" stroke="#edb120" stroke-width="0.8"/>
<text x="474.80" y="48.40" font-size="15.8" text-anchor="start" font-weight="normal" font-style="normal" fill="#000" >2.5</text>
<text x="474.80" y="69.30" font-size="15.8" text-anchor="start" font-weight="normal" font-style="normal" fill="#000" >4</text>
<text x="474.80" y="89.10" font-size="15.8" text-anchor="start" font-weight="normal" font-style="normal" fill="#000" >6</text>
<text x="2.20" y="319.00" font-size="34.5" text-anchor="start" font-weight="normal" font-style="normal" fill="#000" stroke="#000" stroke-width="0.6">C</text>
<path d="M19.30,338.90H223.10M19.30,372.07H223.10M19.30,405.23H223.10M19.30,471.56H223.10M19.30,504.73H223.10M19.30,537.89H223.10M54.87,336.80V540.00M187.53,336.80V540.00" stroke="#8c8c8c" stroke-width="0.8" stroke-dasharray="2.3 1.4" fill="none"/>
<text x="118.00" y="376.50" font-size="12.5" text-anchor="end" font-weight="normal" font-style="normal" fill="#000" >100</text>
<text x="121.80" y="509.10" font-size="12.5" text-anchor="end" font-weight="normal" font-style="normal" fill="#000" >-100</text>
<text x="55.90" y="453.70" font-size="12.5" text-anchor="start" font-weight="normal" font-style="normal" fill="#000" >-100</text>
<text x="187.80" y="453.70" font-size="12.5" text-anchor="start" font-weight="normal" font-style="normal" fill="#000" >100</text>
<path d="M121.2,438.4 118.8,437.8 122.0,436.3 123.2,437.1 129.9,436.1 132.7,437.3 131.4,433.9 131.5,430.5 134.9,428.4 130.4,423.2 130.0,419.7 131.5,418.4 129.9,417.7 124.2,417.0 125.4,418.4 121.1,412.9 122.0,411.5 119.0,409.4 121.0,409.9 124.1,407.9 121.6,406.6 123.9,407.9 124.8,406.5 120.7,404.8 121.9,403.2 117.6,399.1 117.9,393.1 121.0,395.7 119.1,394.8 108.0,392.5 109.3,390.5 111.8,389.3 108.0,383.8 104.8,381.6M121.2,438.4 114.5,437.5 113.2,440.3 112.8,439.6 118.7,434.9 115.4,433.8 109.7,432.0 112.1,439.9 114.0,436.8 108.0,433.6 104.6,431.9 108.2,430.8 111.2,429.9 112.5,426.4 105.3,427.9 105.2,427.3 107.4,426.3 109.3,422.8 105.8,421.1 105.1,420.9 100.7,421.8 104.3,421.4 104.1,416.6 100.4,415.7 101.6,417.2 99.7,414.2 93.8,415.7 91.8,416.6 92.1,415.0 86.2,413.5 83.5,415.1 81.5,413.5 83.3,411.9 83.8,410.5 87.7,410.9 82.7,410.4 76.8,404.8 73.4,404.8 75.5,404.2 72.9,399.3 69.8,398.4 64.6,397.3M121.2,438.4 116.8,438.0 119.9,435.1 119.1,431.4 116.7,427.8 118.4,426.1 120.9,420.9 122.5,420.2 120.3,420.2 121.6,420.3 120.4,417.4 124.0,415.9 120.8,417.6 119.4,421.8 118.3,425.0 116.5,423.1 115.0,424.3 110.9,424.0 109.6,424.5 108.4,425.1 112.7,425.2 111.6,424.1 114.7,424.1 113.7,423.6 114.9,423.9 116.2,422.0 116.7,417.7 117.6,417.4 114.6,416.3 117.4,411.8 120.4,411.4 123.5,408.7 122.9,408.6 118.7,406.2 118.6,403.8 116.1,404.4 116.0,403.2 110.6,402.3 109.5,402.3 97.2,401.8 97.0,401.9 93.1,400.7 91.6,397.6 91.6,395.7 85.1,399.9 86.3,402.0 88.4,404.6 91.2,402.3 91.4,397.3M121.2,438.4 122.6,438.5 117.5,438.2 118.6,436.6 120.9,435.9 123.7,439.9 121.3,439.7 120.0,440.8 125.7,438.6 122.9,436.5 125.0,433.6 130.7,430.0 135.1,428.7 135.4,430.1 137.3,429.1 134.6,425.7 132.1,424.8 133.8,427.3 132.4,426.4 133.2,428.8 130.3,428.4 130.1,428.6 134.6,428.3 132.4,430.9 125.8,430.3 125.7,426.4 128.6,424.0 125.7,425.1 124.9,423.4 127.8,424.2 125.7,423.5 122.9,421.5 122.3,419.0 121.8,413.3 118.1,410.4 120.9,412.0 126.7,411.9 125.7,410.8 124.7,411.4 128.8,411.7 118.2,410.2 116.7,407.0 113.1,405.4 116.5,403.6 111.8,403.6 108.5,401.5M121.2,438.4 117.4,432.9 115.4,430.2 115.0,429.1 115.2,429.4 118.4,428.6 115.6,424.6 119.8,425.0 117.0,425.6 117.2,422.0 118.8,423.5 121.3,424.8 118.3,423.2 117.6,426.1 115.7,427.6 101.2,426.4 100.9,424.6 109.1,425.8 109.8,422.2 108.8,423.4 106.0,424.5 106.7,425.4 109.4,420.9 110.2,420.6 109.6,419.9 113.1,417.1 112.1,414.2 112.2,414.0 112.6,414.4 116.7,412.1 120.1,411.1 119.2,412.4 118.7,409.4 117.2,407.9 113.9,404.5 112.6,403.5M121.2,438.4 117.5,435.2 122.0,434.2 123.2,434.1 123.5,433.8 120.3,432.6 120.0,429.8 120.0,425.8 122.2,420.7 119.6,418.4 116.3,416.5 114.4,417.4 113.1,417.5 106.7,418.3 102.8,416.4 100.4,418.4 96.4,419.3 96.9,420.5 99.7,415.6 96.4,414.3 95.8,413.3 96.9,412.5 96.4,410.9 97.6,410.8 95.0,411.9 95.0,408.9 88.0,407.5 85.2,406.5 89.3,409.1 87.8,410.4 87.8,406.5 86.0,404.9 83.5,406.8 83.2,406.7 84.7,405.5 83.6,404.2 88.2,403.6 90.8,405.1 90.9,404.4 93.3,406.8 94.3,407.0 90.1,404.8 96.0,403.1 91.9,402.2 87.9,403.4 87.3,404.8 86.0,405.5 86.2,407.1 84.5,408.9M121.2,438.4 117.6,439.4 112.4,435.3 107.7,435.0 104.2,433.7 100.7,432.1 96.4,431.5 100.1,428.3 100.5,429.8 102.9,433.1 103.5,430.4 101.8,431.9 96.3,428.9 97.4,426.0 98.0,425.2 97.9,418.5 93.9,415.5 98.6,414.7 96.0,413.0 92.9,407.1 95.1,404.5 93.2,400.8 91.0,403.2 88.7,401.1 84.0,399.8 86.2,402.6 88.5,403.6 89.2,405.2 81.4,403.6 81.1,403.0 81.8,399.9 83.4,398.6 84.1,392.3 85.6,390.8 87.2,393.1 89.3,394.3 88.8,392.7 95.2,393.2 92.4,394.1 90.4,397.0 94.1,397.3 91.4,396.0 95.1,397.3 91.1,397.6 89.1,399.6 88.6,409.7M121.2,438.4 118.1,438.4 112.7,439.6 112.4,437.3 117.8,435.6 113.6,437.9 112.2,439.7 113.5,440.2 118.8,437.3 120.1,431.7 119.6,433.0 121.3,434.6 121.8,436.9 124.6,436.1 128.0,433.9 128.2,431.6 130.9,430.8 130.5,432.0 132.1,434.5 123.1,430.3 116.1,428.1 118.6,429.2 124.7,428.6 125.0,426.9 122.2,427.8 117.2,427.9 112.6,427.0 108.1,425.8 106.0,422.4 103.2,421.3 107.1,422.0 106.1,420.7 105.7,420.8 106.7,418.9 108.0,413.2 105.5,409.6 102.8,411.1 102.0,413.1 102.6,411.6 102.2,412.4 98.9,409.8 100.0,411.6 98.9,415.7 98.1,416.0 96.2,414.4 94.1,413.1 94.9,411.4M121.2,438.4 120.9,439.5 121.5,440.8 123.8,439.1 123.3,440.7 124.4,442.5 123.2,441.0 124.0,441.5 117.8,436.9 121.8,438.8 117.7,437.6 115.3,438.2 119.3,435.9 102.8,436.7 102.2,436.8 103.6,436.6 100.7,436.6 99.8,438.8 103.4,441.0 103.7,438.3 97.1,437.3 98.0,434.4 98.7,434.4 102.0,430.6 94.3,428.0 97.0,427.4 93.5,425.2 95.8,422.7 98.4,419.6 99.9,418.9 105.2,420.6 106.5,419.3 105.7,414.4M121.2,438.4 118.4,436.8 112.7,437.3 109.3,434.9 99.4,435.0 100.2,436.7 109.5,439.2 108.8,439.6 111.2,437.5 106.6,436.8 104.4,435.6 102.7,432.6 101.5,431.9 101.8,432.0 97.6,427.9 94.9,425.0 88.3,421.3 88.4,421.1 85.1,421.0 92.1,420.9 90.6,420.3 88.0,418.8 88.1,419.7 87.6,419.6 81.4,419.9 77.0,419.3 75.4,419.3 74.5,419.2 68.5,415.3 66.9,416.2 66.6,415.2M121.2,438.4 119.8,439.7 116.8,440.0 115.9,441.8 112.9,439.4 116.5,436.3 117.0,440.5 114.6,441.5 119.6,439.8 120.8,440.1 120.3,438.7 126.9,437.9 123.3,437.7 119.0,436.6 120.3,436.9 117.5,434.9 112.0,430.9 119.0,427.5 124.3,427.5 120.7,426.6 119.0,426.3 123.3,423.5 125.9,422.4 120.2,420.2 123.8,420.0 118.8,421.3 116.8,422.1 108.9,421.4 108.9,419.5 106.1,417.9 108.5,415.3 110.8,414.4 108.7,416.0 109.9,416.5 108.9,418.7 109.4,418.1 113.2,415.9 115.9,416.7M121.2,438.4 117.4,441.9 115.7,439.5 115.0,439.4 117.2,439.9 112.3,435.5 109.0,436.3 105.5,432.6 106.0,431.8 110.5,429.9 107.4,429.4 107.7,429.2 106.5,429.0 103.6,431.2 103.2,429.7 94.2,431.6 103.4,440.4 95.6,440.2 94.0,439.4 92.9,440.2 92.8,443.0 91.5,438.7 90.5,436.0 93.3,436.7 87.8,436.4 82.8,434.8 78.9,432.8 80.1,428.9 78.8,430.7 74.8,429.3 77.5,427.3 71.2,426.0M121.2,438.4 117.3,441.5 120.9,439.1 118.8,440.5 111.5,437.1 121.2,441.7 122.7,439.4 116.4,439.7 115.5,437.6 113.8,435.9 115.8,432.6 112.0,433.9 110.2,433.1 111.2,433.2 111.0,433.6 107.9,431.6 103.3,427.3 103.9,427.9 103.1,428.0 101.1,425.6 95.5,424.6 99.9,426.0 92.1,426.4 85.7,428.4 84.7,430.5 85.7,425.6 91.7,427.5 95.5,426.2 95.5,424.5 95.0,426.1 90.9,426.1 84.5,429.3 82.9,428.1 84.7,427.1 90.1,426.2 88.1,426.8 86.5,427.1 86.5,426.3M121.2,438.4 122.0,437.7 129.1,435.8 130.8,438.2 131.8,438.5 127.5,440.8 131.3,438.3 127.4,436.0 130.0,434.6 130.0,433.9 134.5,434.1 133.2,430.5 134.1,431.9 132.0,431.9 132.6,429.4 134.3,430.4 129.4,433.9 123.9,434.0 125.3,431.8 127.5,433.2 128.1,434.4 124.5,434.6 120.9,430.2 116.2,431.0 112.1,429.3 115.5,437.3 113.1,435.2 114.9,433.4 116.2,430.6 112.1,434.5 110.1,433.3 107.3,429.0 111.1,430.8 114.1,429.5 110.2,430.0 105.8,426.6 107.1,430.0 108.6,431.4 106.9,430.5 106.3,428.7 108.5,426.3M121.2,438.4 121.7,441.8 119.9,440.7 123.6,440.8 124.8,440.4 122.9,436.5 123.7,434.1 122.5,435.4 120.9,433.2 125.8,433.1 121.0,432.7 123.5,431.5 122.9,432.3 123.2,435.6 125.6,434.6 122.5,436.8 124.9,436.0 128.6,435.6 122.8,435.1 120.6,438.5 128.7,442.2 128.4,441.6 131.4,440.9 131.2,442.5 131.4,441.5 129.9,441.3 133.4,441.6 129.0,438.8 129.5,436.6 130.4,438.2 129.1,438.1 130.3,439.7 132.0,438.7 133.7,439.7 131.0,440.6 130.1,441.4 126.1,439.9 127.6,438.7 123.2,433.8 122.6,434.8 119.7,435.4 117.1,436.0 119.2,437.8 120.8,436.1 120.3,432.2 120.9,428.8M121.2,438.4 124.4,438.7 121.6,438.7 122.5,438.4 118.5,441.5 118.6,442.9 114.8,443.4 115.6,440.2 119.2,441.6 118.2,445.8 116.3,446.7 113.7,448.4 117.3,446.5 112.7,446.5 110.9,445.7 113.5,442.6 116.4,442.3 111.8,445.6 111.5,441.5 107.5,442.8 113.5,441.6 110.2,442.4 112.1,443.3 106.8,438.6 104.1,439.0 100.2,435.5 98.3,436.7 98.5,436.1 101.2,437.7 101.5,440.2 96.6,439.3 95.2,439.3 96.6,439.7 85.0,437.3 87.4,436.9 86.2,436.6 83.3,437.5 77.7,438.8 76.5,439.4 77.8,436.8 76.1,437.7 81.0,437.9 78.7,438.2M121.2,438.4 123.9,437.7 124.2,436.2 121.2,435.0 123.5,437.5 116.0,440.2 119.5,439.3 118.0,439.2 113.1,440.1 118.9,442.3 119.9,443.4 121.7,444.0 123.0,447.0 121.1,445.0 118.7,441.3 123.4,442.5 120.8,444.0 118.3,442.5 121.9,444.6 123.6,445.2 122.5,446.4 123.4,450.5 123.8,449.9 124.8,446.2 128.2,446.3 129.3,445.7 127.7,442.8 126.1,443.2 126.7,444.5 129.7,442.2 133.3,441.4 136.3,442.1 132.4,438.2 130.2,442.1 130.8,441.9 131.3,436.5 129.9,435.3 127.0,435.2 129.5,435.0 132.5,435.3 130.4,435.3 130.1,437.8 131.0,433.7 130.7,437.5 128.5,436.3 122.2,434.9 121.5,436.1 119.2,437.0M121.2,438.4 125.4,435.8 121.4,435.9 115.1,434.1 115.5,433.6 116.4,433.0 109.2,432.9 111.6,434.8 113.7,434.1 115.9,436.3 111.9,438.2 108.8,437.9 104.9,435.8 103.6,434.1 102.2,433.6 100.5,434.4 100.1,433.8 93.5,433.3 95.0,431.2 91.9,428.7 94.1,427.9 93.3,426.5 92.7,426.7 90.5,428.1 89.5,427.2 92.1,428.7 88.3,428.9 90.8,432.7 93.0,430.4 89.3,436.1 89.8,436.6 90.9,437.4 90.1,438.0 80.4,438.9 81.6,450.3 81.8,451.8 80.2,450.7 81.2,451.6 81.2,450.3M121.2,438.4 121.2,441.6 118.4,439.7 112.1,437.5 106.6,439.0 106.0,439.5 105.9,435.8 101.0,436.2 97.3,438.9 97.6,439.9 95.5,441.1 93.5,439.9 87.5,442.6 85.6,441.4 82.1,441.9 80.9,441.9 75.0,443.1 72.6,443.5 69.4,445.2 63.9,443.8 60.1,442.8 59.2,443.2 57.5,443.9 56.9,442.6 60.8,444.0 61.2,442.5 60.2,443.2 58.5,445.1 61.3,447.3 63.1,447.2 58.3,447.4 57.0,448.1 60.7,449.0 55.8,448.3 56.8,448.7 54.4,451.2 54.1,450.1 53.7,450.4 56.9,449.8 59.2,452.6 65.5,453.2 69.3,455.6 67.9,456.1M121.2,438.4 113.6,436.2 111.1,438.9 111.3,439.4 115.1,440.0 118.0,440.6 118.8,439.9 122.7,438.0 120.0,435.9 119.2,437.3 117.9,438.6 117.4,442.0 119.1,442.4 117.8,444.6 114.6,444.4 114.0,446.2 112.0,446.9 111.0,447.0 106.8,447.0 102.7,447.3 105.9,446.3 108.3,448.4 107.4,449.9 105.8,447.3 105.7,449.7 104.8,450.7 102.6,451.9 100.2,453.3 100.2,454.1M121.2,438.4 118.1,436.5 118.3,437.5 109.9,437.8 113.3,440.3 116.3,439.0 118.4,438.9 119.1,440.5 121.7,441.4 125.2,439.7 123.5,439.7 122.2,437.1 120.1,433.9 121.7,434.4 113.0,427.3 117.7,423.9 118.2,420.8 122.6,421.0 110.5,417.6 113.7,416.7 108.4,415.4 109.4,417.2 111.0,416.1 110.6,410.2 108.3,407.9 108.3,406.3 104.8,405.8 103.7,405.2 105.7,405.2 112.5,406.5 113.3,405.6 113.4,403.1 111.0,401.7 123.4,402.5 121.9,402.1 122.4,402.1 120.4,403.2 118.8,402.9 119.2,403.1 122.1,399.7 127.4,401.5 130.1,396.8 128.2,398.2M121.2,438.4 121.7,438.9 121.0,439.8 124.4,436.6 121.8,437.7 126.1,437.9 122.9,438.3 127.3,435.8 129.6,433.4 133.0,431.4 129.3,431.7 140.3,435.4 145.5,434.7 142.3,435.2 145.2,435.9 142.8,433.9 147.6,435.4 144.5,435.3 142.3,436.6 144.0,435.2 143.3,436.8 140.5,434.2 144.9,433.6 149.7,430.4 147.6,424.8 145.5,427.9 148.1,428.7 146.4,426.9 143.7,425.1 141.6,423.7 142.6,423.0 142.5,422.1 149.0,417.0 150.5,412.9 155.0,417.1 154.7,417.8 150.4,418.7 146.0,415.3 145.6,414.0 149.0,412.7 144.4,407.5 142.1,406.1 144.2,406.2 144.8,405.6M121.2,438.4 123.4,438.0 116.6,437.2 115.3,434.4 116.9,432.4 117.6,432.7 120.3,434.5 120.6,431.6 120.6,432.4 125.0,432.2 128.4,429.5 132.9,424.7 130.6,424.8 132.1,423.5 132.2,420.9 137.1,420.6 138.7,421.2 138.7,420.5 139.3,418.6 143.9,418.8 143.9,421.1 140.1,419.0 143.2,415.4 140.0,417.2 136.9,416.0 136.4,413.0 137.0,413.6 136.7,412.8 134.9,416.3 135.3,413.1 135.4,411.8 137.7,415.1 137.2,416.0 135.4,413.1 134.5,413.4 135.7,414.1 118.3,418.8 124.0,416.4 129.5,417.4 132.0,416.9 129.7,416.8 130.8,420.2 130.5,418.4 133.6,418.1 134.1,417.2 136.4,413.4 137.0,409.4 136.4,406.5 138.2,408.9M121.2,438.4 124.6,438.7 120.0,435.8 125.0,434.2 127.7,433.2 127.3,432.5 130.8,429.3 132.5,428.5 134.7,427.6 132.8,428.8 134.9,428.6 139.7,425.3 141.3,422.6 141.4,422.6 140.6,422.0 144.2,421.1 142.7,419.4 141.8,418.0 142.3,417.4 140.4,418.2 131.3,417.4 135.4,418.2 139.2,418.6 142.2,417.2 146.4,415.3 148.9,414.9 150.2,414.4 148.7,411.7 144.4,410.2M121.2,438.4 124.1,438.5 121.6,439.3 124.3,441.3 125.6,442.8 127.1,444.2 133.8,442.7 137.8,441.4 137.8,444.3 138.9,446.9 143.7,446.3 145.1,445.8 145.7,446.2 148.5,448.9 147.7,449.0 148.9,448.8 152.2,446.3 150.0,446.8 142.0,441.1 139.0,440.4 139.4,440.4 136.6,437.2 123.7,433.0 120.7,427.8 117.9,426.8 119.6,426.7 121.9,426.9 128.4,424.6 129.7,423.0 129.5,421.8 131.0,421.1 133.5,421.9 134.9,419.4 135.0,420.7 131.5,421.4 133.2,419.9 135.4,418.4 133.4,419.0 135.2,419.2 137.3,420.8 141.7,418.8 142.1,419.2 144.1,419.3 146.5,418.4 149.0,418.2 152.7,414.2M121.2,438.4 127.1,438.1 130.3,438.1 134.3,436.8 131.6,435.1 134.1,437.2 137.9,437.2 135.3,434.8 127.7,434.7 128.8,432.4 125.8,430.2 126.3,430.5 127.4,431.7 131.3,430.9 130.5,429.6 133.6,431.7 139.0,431.6 144.5,429.4 144.8,430.1 148.2,426.7 146.0,426.4 146.7,429.3 150.2,428.2 150.9,427.5 151.2,426.4 155.4,424.1 157.7,423.0 160.1,419.6 159.9,417.7 158.6,418.0 158.0,416.0 166.1,415.7 166.0,417.2M121.2,438.4 128.5,439.4 128.0,440.2 130.6,439.1 134.8,438.4 134.9,439.0 137.1,434.7 141.8,434.4 143.1,432.7 141.7,433.2 142.8,431.6 148.5,431.8 149.8,430.8 151.6,431.4 152.3,433.7 148.6,434.7 151.3,433.7 154.3,431.4 151.1,428.6 150.6,428.0 147.9,428.9 152.7,429.8 156.6,431.6 153.6,434.5 155.6,434.0 160.9,435.8 157.5,435.7 156.7,435.9 158.9,435.3 163.2,437.7 161.2,438.0 161.4,440.4 162.9,438.3 168.2,439.9 161.2,442.0 164.9,441.9 169.9,437.8 169.7,439.7 172.9,437.4 174.3,438.1 169.6,437.1 175.2,438.4 172.9,436.1 169.3,437.0M121.2,438.4 119.5,440.5 123.5,441.9 122.1,443.1 120.8,444.3 125.3,443.3 123.1,445.5 132.8,443.3 133.4,445.3 138.3,447.0 139.3,448.4 147.0,448.8 144.4,448.8 146.4,448.0 148.4,448.2 150.8,448.5 150.4,448.5 154.1,449.8 157.0,447.9 159.7,448.9 158.4,449.0 159.9,445.8 167.9,444.8 176.5,443.4 177.8,444.7 182.1,443.6 188.4,444.1 191.6,443.7 191.7,442.2 190.6,441.4 191.3,440.2 199.1,441.2 191.8,437.8 188.0,434.4 186.9,433.3 187.5,434.0 183.7,436.5 183.3,436.5M121.2,438.4 117.8,437.3 118.3,434.4 115.0,437.2 111.9,436.8 110.4,436.9 109.7,438.4 111.2,440.9 113.9,441.7 118.0,441.1 118.3,442.2 117.4,443.0 115.7,442.5 114.5,443.4 113.8,443.7 114.6,443.8 115.9,443.9 112.3,446.7 113.7,444.9 120.4,444.5 116.8,444.3 118.8,443.7 123.5,445.9 125.2,444.3 125.5,444.0 125.9,445.0 127.8,446.0 122.8,444.7 123.1,443.2 126.5,442.1 128.5,443.7 129.6,444.6 133.3,443.3 137.9,443.5 138.7,444.8 140.6,446.1 145.6,448.3 147.0,448.0 148.4,447.2 155.6,444.3 162.5,443.8 169.5,443.8 172.2,443.7 170.0,445.6 183.3,443.3M121.2,438.4 114.8,431.8 120.4,431.8 121.2,435.3 121.2,436.2 122.4,435.3 121.9,434.9 122.8,433.2 123.8,430.4 124.4,432.1 122.2,433.3 126.6,435.1 124.1,434.6 125.1,435.3 125.4,436.1 126.7,436.7 125.6,437.2 124.0,440.7 122.2,442.1 120.0,441.6 118.1,444.3 118.8,445.0 119.5,442.9 124.4,442.4 121.5,443.4 124.2,446.6 127.8,445.3 129.0,444.7 126.1,444.7 124.0,445.7 125.2,446.7 126.3,444.4 127.2,445.5 132.7,445.4 139.9,446.5 137.8,448.7 140.8,448.9 149.1,451.3 145.5,452.0 148.0,454.8 147.8,453.9M121.2,438.4 123.7,437.8 121.8,439.5 126.9,440.6 123.8,441.4 126.7,440.9 140.0,448.7 135.0,447.3 139.2,447.2 139.9,446.0 141.3,446.1 154.7,450.2 147.6,451.1 148.5,451.4 146.6,451.3 150.1,450.9 153.2,449.5 151.9,448.6 152.4,449.3 151.8,448.0 146.4,448.1 150.7,444.7 152.1,444.4 149.7,445.2 146.8,447.8 148.3,446.0 141.1,446.2 145.3,446.5 145.9,445.3 151.0,447.2 152.3,446.1 149.3,446.7 151.9,446.4 153.3,454.0 152.3,453.0 157.5,453.9 153.3,453.3 156.1,451.5 161.5,453.2 160.0,454.8 162.5,453.2M121.2,438.4 120.7,439.5 122.6,438.8 123.6,440.1 126.8,440.2 131.2,441.6 126.3,444.1 130.7,441.1 130.9,440.8 135.0,441.8 134.3,440.6 135.5,440.5 133.2,439.8 133.7,438.1 130.1,439.5 129.3,439.8 126.4,440.0 127.2,438.7 124.6,436.9 120.7,433.8 120.8,431.9 117.4,429.5 114.5,427.9 110.8,425.6 109.5,427.0 104.4,425.7 106.6,428.2 104.0,429.6 106.1,426.4 108.0,426.5M121.2,438.4 118.3,443.6 118.2,443.9 121.5,448.6 118.2,448.3 118.6,447.8 123.1,449.8 124.3,448.2 121.2,445.4 128.6,442.2 129.1,438.8 128.8,436.3 123.8,436.8 119.8,439.8 118.4,436.5 113.9,434.3 113.4,434.1 112.4,435.3 109.0,435.4 108.9,433.0 108.2,435.4 104.2,436.6 103.6,434.1 102.7,431.1 103.5,430.8 112.3,432.8 114.8,431.1 116.7,431.0 114.5,429.9 117.2,427.7 111.7,426.6 111.2,428.0 112.2,429.2 112.3,428.5 116.5,430.9 113.7,432.3 110.6,432.7 118.9,434.3 119.0,432.8 119.4,429.9 121.2,429.3 119.7,429.3 119.7,429.9 122.1,429.8 121.4,428.9M121.2,438.4 120.1,438.6 118.5,441.1 119.9,444.9 120.9,443.3 122.0,439.6 127.4,439.2 127.6,440.2 128.4,439.1 129.1,438.1 127.9,436.8 125.7,435.8 128.4,436.6 126.1,432.2 123.8,431.5 124.2,428.6 121.8,424.9 124.6,425.5 126.5,425.6 123.6,420.0 117.4,418.9 117.9,421.6 120.4,420.7 129.2,425.0 123.9,425.6 123.6,423.9 123.7,423.1 113.5,425.2 113.3,426.6 114.4,426.2 113.5,428.2 113.9,425.0 115.4,425.3 117.8,425.7 119.1,425.4 114.9,426.6 113.8,427.0 110.7,427.5 111.4,430.0 112.0,430.3 109.7,429.3 109.1,429.8 109.7,427.3 112.6,432.3 114.5,433.6 115.4,436.1 118.8,437.0M121.2,438.4 124.8,436.2 128.2,438.6 127.2,435.3 124.5,436.4 119.5,434.9 115.1,432.6 115.9,434.7 113.8,437.5 115.5,441.7 114.1,441.4 114.8,441.4 116.8,443.2 118.3,442.0 116.4,442.5 117.5,444.1 118.5,445.6 113.5,450.3 117.1,451.0 116.8,452.6 116.4,451.9 115.2,451.8 113.6,449.9 111.9,448.3 116.6,448.3 115.5,448.5 115.4,449.8 119.1,446.9 118.7,447.3 122.5,443.5 126.4,443.4 125.2,446.0 123.7,447.3 120.1,444.8 119.7,444.9 121.9,443.4 122.8,442.4 122.0,439.2 122.9,440.4 127.9,439.5 129.9,440.4 126.0,437.0M121.2,438.4 122.4,433.5 127.4,433.1 123.7,434.0 126.8,438.8 126.8,437.1 123.2,438.1 127.4,437.2 126.2,439.3 127.6,440.2 128.8,436.6 132.3,433.9 126.6,433.8 125.3,433.2 119.4,439.3 123.0,437.7 122.4,435.3 129.1,436.5 128.7,432.4 124.8,433.0 127.3,432.2 127.7,429.2 120.8,414.4 120.0,415.9 119.5,413.4 119.3,411.7 120.5,410.4 126.3,410.7 125.6,408.1 119.2,409.6 119.3,409.2 120.9,414.7 121.4,413.5 122.8,412.6 122.6,413.3 125.9,415.0 128.4,411.6 130.0,413.4M121.2,438.4 120.4,437.1 124.5,440.2 127.8,442.1 127.6,439.1 131.1,435.5 130.6,433.3 135.6,436.1 137.1,438.8 141.3,439.6 137.7,440.5 138.3,442.7 137.7,441.7 139.5,438.7 142.5,437.0 141.2,437.3 141.7,436.0 139.7,436.3 138.7,434.8 143.4,433.4 146.0,433.5 146.4,432.6 138.7,430.1 141.8,429.9 138.7,430.6 137.6,430.1 140.5,427.6 145.1,429.6 147.1,431.9 147.0,433.2 152.7,432.3 152.0,432.2 149.2,433.5 151.6,431.4 140.1,425.1 135.5,424.0 132.5,424.2 134.2,424.9 135.2,425.2 134.8,423.5 137.7,419.2 135.8,418.7M121.2,438.4 109.8,439.3 108.5,439.9 106.1,438.9 108.1,437.1 103.9,434.5 103.0,436.8 99.0,436.0 94.3,437.1 95.5,439.4 98.4,437.8 97.9,438.3 97.7,436.8 100.8,435.7 100.8,432.5 101.9,434.0 103.4,432.4 106.4,430.8 108.9,430.8 109.5,430.7 109.0,428.3 109.6,426.8 109.5,425.8 107.6,427.2 112.4,425.9 122.6,428.2 121.4,429.8 121.4,427.1 118.6,427.1 123.2,423.8 126.0,424.6 123.6,423.6 125.2,421.2 126.6,419.1 121.7,420.2 125.4,417.3 129.6,414.7 131.4,412.4 139.8,413.4 139.7,413.5 136.9,413.2 141.0,413.9 143.5,418.9 144.4,419.3M121.2,438.4 122.4,437.7 124.4,438.3 127.9,440.5 131.3,442.5 133.3,441.0 131.5,442.5 135.7,441.4 137.4,437.3 136.3,438.0 135.3,438.4 131.8,437.6 132.6,436.5 138.2,436.6 139.4,434.0 134.8,434.4 137.2,434.7 139.6,434.4 142.3,434.2 147.8,439.3 142.7,438.1 143.8,439.5 141.9,438.9 141.3,432.7 142.4,432.2 141.9,430.0 135.9,429.8 137.9,429.9 142.4,429.3 141.7,430.5 144.4,429.8M121.2,438.4 120.2,436.5 121.4,435.3 115.4,435.6 115.3,437.1 110.2,436.0 113.6,434.4 112.4,436.6 115.8,436.9 117.9,434.8 115.8,434.5 118.4,432.3 117.7,432.3 116.4,430.5 111.5,428.9 114.9,429.3 119.8,432.0 117.3,433.7 116.6,431.7 119.3,430.7 120.4,429.4 124.4,431.6 121.5,431.3 118.8,433.2 121.4,433.6 125.8,434.1 129.5,432.7 129.9,433.4 129.5,432.9 132.1,433.6 132.2,434.4 131.0,433.8 136.5,430.5M121.2,438.4 126.3,437.7 131.4,435.1 135.2,435.4 129.4,434.9 129.9,434.0 132.9,433.7 130.6,432.6 135.8,433.6 140.5,432.6 141.6,433.7 144.1,429.9 146.2,426.1 141.8,429.8 142.0,427.2 143.9,424.9 142.1,426.0 147.6,423.3 145.5,421.8 152.2,423.6 149.1,425.8 131.7,426.9 135.0,426.1 135.6,424.8 140.6,424.9 146.8,422.0 144.0,421.3 149.4,422.6 152.2,420.0 156.8,420.1 152.7,421.7 153.8,421.2 150.2,421.2 156.2,422.1 157.2,423.3 139.2,422.3 146.0,421.5 148.3,421.2 146.8,419.5 149.3,418.6 151.0,417.4 148.8,416.4 148.7,414.6 152.3,414.0M121.2,438.4 121.9,440.9 127.1,436.1 131.7,433.3 131.2,434.1 129.4,432.1 130.7,431.8 130.5,432.0 134.1,430.5 130.1,428.7 130.5,427.9 124.3,435.0 127.0,436.1 123.5,436.2 124.7,431.5 130.0,434.1 132.6,433.9 128.6,434.5 128.1,430.8 131.1,432.1 131.7,430.7 135.9,427.8 138.3,430.3 134.8,428.3 133.5,426.7 137.5,424.9 144.5,424.2 146.7,422.6 134.0,422.4 135.4,418.9 137.1,419.1 137.0,417.4 136.9,410.7 140.7,408.7 141.2,406.6 137.8,408.8M121.2,438.4 121.7,440.1 117.8,438.9 119.4,439.3 120.7,437.3 119.0,435.3 117.8,431.8 121.6,427.0 122.1,424.9 122.6,421.3 123.2,424.3 120.4,423.0 115.9,422.5 116.8,424.2 116.9,422.5 119.3,422.1 131.5,426.7 132.3,425.0 131.4,433.2 133.1,433.3 130.8,433.4 133.2,430.4 132.4,427.1 132.9,423.5 131.9,419.5 127.2,419.7 123.8,415.7 128.0,413.8 126.8,409.2 122.0,409.7 121.7,411.4 123.6,410.4 121.0,406.9 120.2,404.6 118.4,405.2 110.9,406.0 108.9,401.6M121.2,438.4 112.0,439.7 111.2,438.5 108.2,438.9 108.7,432.9 110.8,430.7 112.8,430.3 109.6,429.8 108.3,433.1 112.4,434.7 104.9,432.3 105.5,428.5 105.8,424.4 113.0,426.8 112.5,428.2 115.4,426.1 110.8,422.7 107.6,420.6 110.7,422.0 113.7,420.0 116.5,413.9 113.8,415.0 111.8,413.0 110.0,414.1 108.3,412.4 108.3,412.3 103.2,412.0 103.9,410.5 110.0,406.9 111.7,404.8 113.7,406.5 111.1,407.3 112.2,404.2M121.2,438.4 119.2,436.2 119.8,433.3 118.0,432.3 117.3,429.8 116.4,429.3 117.3,428.0 114.3,429.4 109.2,431.0 109.2,432.0 107.0,427.6 107.0,426.1 95.7,428.3 97.2,430.3 100.4,431.1 108.0,429.6 110.4,430.3 111.3,416.5 105.3,418.2 107.0,416.3 106.4,414.9 106.1,416.0 107.2,416.4 105.9,414.4 109.8,410.5 110.3,411.1 103.6,418.9 103.7,419.4 99.9,419.5 100.4,417.9 95.7,419.2 98.1,422.0 97.2,419.1 98.8,420.0 98.3,417.6 103.4,417.5 104.1,415.2 108.7,416.5 107.1,416.5 104.5,414.7 103.4,414.1 105.6,414.7M121.2,438.4 117.0,439.0 117.3,436.4 114.4,436.7 114.3,437.5 117.0,436.7 119.9,436.1 116.0,434.0 113.5,432.8 116.5,429.9 120.2,428.6 119.4,428.3 123.1,430.1 119.4,433.7 118.1,432.7 121.6,432.0 123.2,430.0 121.4,429.1 122.0,427.5 124.7,424.5 118.2,432.4 119.5,429.8 118.7,428.8 120.8,429.7 122.4,429.3 122.6,430.0 130.2,429.1 125.1,428.3 120.0,426.7 119.7,426.9 118.1,426.7 117.3,427.2 119.7,427.6 119.6,430.6 121.3,435.8 121.0,436.3 113.7,436.5 109.0,437.5 106.0,442.5 104.2,443.3 104.3,443.6M121.2,438.4 116.1,438.9 118.9,437.7 120.4,436.9 123.0,436.6 123.6,438.2 118.2,432.6 121.2,435.0 120.3,439.7 128.4,441.2 132.3,441.2 132.7,443.4 133.1,443.6 129.8,444.0 126.8,442.6 117.9,441.4 122.9,441.9 124.0,441.5 119.5,443.6 119.1,443.4 117.5,442.1 119.8,442.4 118.5,442.0 118.5,441.8 114.6,438.6 116.8,443.7 119.0,441.7 119.1,440.1 119.7,440.6 117.7,438.2 121.0,439.9 120.4,440.1 121.1,445.1 119.4,443.6M121.2,438.4 122.5,440.4 124.0,441.0 124.6,440.9 126.2,441.9 124.6,442.1 129.2,440.3 132.4,438.7 135.6,439.6 136.6,440.7 139.8,439.1 142.2,440.1 138.4,441.4 137.7,443.0 141.4,443.7 145.0,443.9 146.0,443.2 143.1,444.9 145.0,445.5 145.0,448.5 142.4,446.9 148.4,445.9 157.0,444.3 150.7,443.9 151.1,444.6 154.7,445.4 161.5,444.5 158.5,441.0 158.8,442.3M121.2,438.4 118.4,439.6 120.4,438.5 120.5,438.4 122.8,440.0 126.0,440.5 124.5,439.8 128.2,439.0 135.4,440.2 135.2,441.9 135.2,440.2 134.5,442.5 133.8,439.0 136.6,437.0 142.1,437.8 139.8,437.8 143.4,436.9 145.4,436.4 143.6,435.2 143.5,435.7 143.8,436.3 151.7,437.0 153.9,437.7 160.9,436.3 161.4,438.1 163.6,436.2 162.5,440.1 160.7,443.9 164.3,443.5 165.7,445.9 166.3,446.1 167.3,442.2 170.1,441.9 175.0,441.9 175.2,442.0 171.6,440.1 172.2,436.1 168.1,437.0 166.7,438.1 164.5,440.0 164.9,438.3 166.2,436.6 163.2,435.9 165.4,436.3 166.7,438.5 166.7,438.4 167.2,437.3 167.4,437.0M121.2,438.4 119.4,438.3 122.5,442.4 118.3,443.9 105.8,447.4 104.0,446.9 101.4,447.4 102.4,449.2 103.6,446.8 102.2,446.6 100.2,446.1 104.4,449.7 102.9,447.2 97.8,447.4 93.5,448.5 90.4,449.9 92.4,450.6 91.5,447.8 97.8,449.4 96.7,451.4 95.7,454.6 99.4,453.8 102.2,453.3 96.8,455.2 94.3,455.8 96.1,455.7 98.4,455.7 100.7,455.1 102.6,454.5 97.9,453.3 96.9,452.0 95.7,451.9 96.9,449.4 103.2,453.0 103.7,453.5 99.7,454.1M121.2,438.4 117.9,437.2 131.0,431.2 136.4,432.4 136.4,430.9 128.6,432.3 128.7,430.5 129.3,433.9 126.8,432.6 126.6,430.1 128.2,431.5 126.0,434.8 128.5,433.6 129.5,434.7 129.4,433.7 129.7,436.7 129.5,438.1 131.6,437.5 136.1,440.4 134.7,443.1 138.2,443.4 141.2,442.1 138.9,443.3 139.8,444.3 137.7,442.6 138.2,441.9 138.6,445.1 141.4,445.5 142.3,444.7 139.2,445.8 139.3,446.9 140.9,448.8 139.2,449.3 143.2,449.3 140.9,452.1 147.7,453.5M121.2,438.4 121.9,438.1 125.7,437.0 126.2,439.6 124.3,440.4 124.6,442.2 125.0,441.9 128.5,444.5 130.9,442.3 139.0,441.0 143.4,441.3 146.4,440.5 147.6,440.2 143.7,441.3 141.5,441.2 140.7,443.0 135.7,448.7 136.3,447.9 136.7,447.7 141.4,449.8 144.0,451.8 141.4,452.8 140.1,455.6 141.3,454.6 141.1,454.0 144.8,452.8 147.4,452.2 153.6,451.5 153.4,450.1 156.5,451.7 157.3,449.7 158.7,450.8 156.7,452.2 156.7,452.7 156.3,451.9 157.6,452.2 159.0,452.4 162.6,451.9 162.1,453.1M121.2,438.4 119.6,438.3 119.4,438.2 122.5,437.0 126.3,434.8 124.1,433.8 124.6,437.8 131.4,438.4 128.2,438.9 130.6,440.6 134.0,439.0 136.0,436.9 132.0,437.1 132.6,436.2 127.3,435.7 131.1,437.1 134.2,436.2 138.6,434.8 137.9,434.8 138.6,436.0 137.6,438.1 139.0,436.3 140.4,438.6 137.6,438.5 137.4,438.3 135.2,435.9 134.7,430.1 136.5,430.1 133.2,428.8 135.3,427.6 140.0,426.1 141.1,425.2 142.9,423.5 145.5,422.5 146.6,417.4 147.4,415.3 146.4,416.2 144.4,413.2 139.8,406.9 136.0,406.0 135.9,404.2 133.5,403.2 134.7,403.2 135.0,399.0 133.8,398.5 129.3,398.5 128.4,399.4 128.0,397.9M121.2,438.4 125.0,439.1 127.9,440.8 129.6,441.0 120.2,433.2 120.6,435.1 125.8,434.5 122.9,433.0 127.9,431.1 127.4,431.2 126.1,426.3 123.4,424.6 122.8,422.8 124.1,421.4 122.5,421.3 128.1,423.6 129.4,422.3 140.0,424.4 140.0,423.7 140.3,424.4 144.9,424.2 143.0,425.6 142.1,424.3 142.5,424.2 147.1,422.5 143.1,420.8 144.1,419.9 146.0,418.8 148.6,418.0 151.5,416.7 154.9,417.1 157.5,417.7 159.0,418.8 163.1,418.7 165.4,417.3M121.2,438.4 122.4,440.4 127.0,440.8 127.7,438.8 135.7,439.2 136.7,439.3 135.8,439.6 139.7,437.9 143.7,437.7 146.2,437.4 151.8,438.5 155.3,435.5 154.4,436.1 145.8,435.9 150.2,437.1 152.7,435.6 162.8,437.3 164.2,437.9 167.6,437.4 172.1,435.3 173.9,433.9 175.9,432.3 183.8,431.5 185.4,429.6 187.2,427.9 187.8,428.2 191.0,429.5 190.8,429.8 194.4,428.0 193.4,429.7 197.2,430.4 199.2,432.4 201.2,435.4 203.2,439.4 205.2,445.4M101.7,439.9 97.1,440.0 90.8,439.7 85.3,440.6 81.4,440.3 76.5,441.2 70.2,441.1 67.2,441.1 60.5,441.2 56.8,441.0 49.4,440.9 44.1,441.2 40.2,440.5 34.2,440.2 30.1,438.5 25.5,438.1 19.9,434.9M121.2,438.4 121.1,436.7 118.2,437.5 116.8,436.7 120.8,432.4 118.2,431.1 121.2,430.6 121.7,431.0 117.7,430.7 122.4,429.7 122.6,427.3 123.9,426.1 121.0,425.8 117.3,427.0 119.6,427.9 118.8,427.3 119.2,425.1 122.5,424.4 124.4,426.3 127.4,426.5 130.4,424.0 131.2,425.1 128.7,424.7 128.8,426.8 128.4,426.8 128.7,425.9 126.7,424.9 125.4,423.3 124.3,422.6 122.0,423.0 122.2,423.3 125.7,422.7 128.0,421.9 126.7,422.0 130.2,419.9 128.0,419.0 129.9,420.1 129.4,420.1 127.8,420.7 127.4,417.8 126.5,415.1 123.8,417.5 123.6,418.1 121.1,417.4 117.6,417.7 117.9,419.9 118.1,420.6 123.2,420.8 121.3,419.8M121.2,438.4 119.5,438.3 120.8,438.7 118.5,439.0 118.8,441.6 118.7,440.5 114.3,438.5 118.2,439.8 121.7,441.3 124.4,442.9 124.7,444.8 130.8,446.9 126.9,454.4 127.2,455.9 128.2,455.1 127.3,454.5 129.0,454.6 133.6,454.6 129.2,454.9 125.4,455.2 120.4,453.8 127.7,451.7 132.1,452.2 133.1,452.0 130.3,451.5 128.7,452.4 123.4,452.9 117.8,452.0 119.2,452.2 115.5,451.1 114.3,453.3 110.3,452.4 105.9,450.7 106.5,449.2 95.7,446.0 92.8,441.3 93.9,441.3 98.0,441.5 98.4,439.3 101.7,436.9 105.3,435.4M121.2,438.4 125.2,437.9 126.7,441.1 124.6,442.1 127.4,443.4 127.8,441.4 132.5,441.5 127.4,441.2 127.6,438.5 130.4,434.4 131.1,435.5 127.9,437.0 126.9,435.7 125.2,434.5 120.4,435.9 120.4,434.9 117.7,434.6 114.5,435.5 112.8,438.9 113.7,433.6 113.7,433.7 119.4,433.2 114.5,432.9 113.1,429.2 110.5,426.5 117.1,426.6 119.5,424.2 119.4,424.1 121.9,425.7 125.0,426.2 122.5,427.7 118.2,428.4 118.2,428.6 118.8,431.0 121.7,429.9 128.5,432.0 106.5,432.7M121.2,438.4 121.8,438.0 119.6,436.6 121.8,437.9 120.5,438.1 119.8,438.9 116.4,438.1 118.3,437.8 115.5,440.2 115.1,440.0 115.9,439.8 119.0,442.0 123.5,440.4 128.2,439.4 126.7,441.4 128.1,443.6 128.1,442.9 130.6,442.0 121.6,440.2 118.0,440.7 113.4,440.8 114.2,440.5 114.4,439.3 113.4,437.2 111.1,437.9 112.9,438.2 112.8,437.9 112.6,438.4 111.0,437.8 106.3,437.9 108.7,437.2 110.8,434.3 114.1,434.4 115.2,435.8 114.5,438.0 109.8,436.6 108.2,438.7 106.6,439.2M121.2,438.4 114.2,436.1 112.9,435.2 112.9,436.4 114.9,437.3 112.1,434.4 116.5,430.7 122.0,432.4 122.3,430.3 127.0,429.5 121.4,427.4 123.4,425.8 118.7,424.7 120.0,423.8 118.5,422.5 119.4,421.4 118.7,421.5 116.0,422.7 117.7,425.4 116.7,425.0 117.0,422.8 121.1,418.5 121.7,418.4 125.2,417.0 122.9,419.6 121.9,419.3 125.4,418.6 122.9,419.3 123.7,415.5 108.4,411.7 103.6,411.6 106.3,413.2 103.8,413.7 107.5,414.0 109.1,414.6 107.0,419.1 107.9,416.8 109.6,418.0 112.4,417.7 111.5,416.1 111.0,415.0 111.9,411.9 115.3,411.1M121.2,438.4 124.1,438.3 121.9,439.5 118.5,439.4 119.7,439.2 114.6,435.9 114.6,435.8 116.9,437.3 117.7,437.3 116.1,436.7 115.6,435.9 120.0,436.0 115.2,436.7 115.9,436.6 112.8,437.0 113.1,440.3 115.3,443.8 112.7,446.8 110.3,442.4 113.0,441.5 113.2,442.3 115.4,441.5 114.8,441.5 120.4,441.2 122.1,442.2 122.1,444.0 121.8,440.8 121.2,443.1 122.4,446.3 125.0,445.1 123.4,445.2 116.5,443.6 115.3,444.1 116.3,443.8 115.0,443.1 108.6,439.4 112.5,439.2 113.5,439.6 113.4,438.7 109.9,438.5M121.2,438.4 119.5,436.7 120.4,435.1 118.2,435.6 120.3,436.9 123.1,435.1 125.0,433.2 125.9,431.8 124.2,440.0 128.0,440.8 125.6,439.7 129.0,438.9 128.7,434.7 133.6,434.3 133.7,434.6 131.5,435.6 134.8,434.5 136.7,434.3 136.8,435.7 139.0,433.5 137.9,433.7 134.4,432.0 133.5,432.7 136.6,433.9 135.8,434.4 135.4,435.9 138.5,434.3 137.6,434.2 143.2,434.9 138.4,435.5 139.9,434.4 143.8,434.4 141.6,432.3 137.8,431.7 131.9,429.4 131.6,426.6 130.1,425.3M121.2,438.4 120.4,441.7 119.9,442.6 120.7,441.3 121.0,438.9 122.4,439.0 123.8,436.8 120.9,435.0 120.3,433.4 124.1,434.9 126.7,433.2 125.9,432.6 122.3,432.7 120.5,430.9 115.6,430.4 114.4,429.3 118.1,430.5 121.9,430.6 122.2,431.1 126.6,431.5 126.0,431.8 130.3,432.2 129.0,431.3 129.5,433.4 129.8,428.8 128.2,426.3 126.7,425.3 122.3,424.7 122.3,422.4 125.2,425.5 122.7,428.7 121.8,429.5 120.0,428.7 120.0,427.1 117.4,427.2 113.9,427.3 112.6,426.0 121.3,419.3M121.2,438.4 124.6,438.2 128.2,437.1 133.4,436.5 138.1,435.0 134.6,434.9 122.4,442.8 115.7,440.9 109.4,438.3 108.0,438.4 110.1,437.3 109.9,436.4 105.2,435.9 106.8,433.0 106.9,429.4 108.4,430.4 112.9,428.2 113.2,428.6 111.9,426.2 113.2,426.5 115.5,421.4 117.3,422.8 116.1,425.8 121.2,424.3 122.9,421.0 123.8,420.5 124.0,420.1 126.7,416.5 129.0,414.7 125.9,414.6 126.6,412.9M121.2,438.4 121.3,438.5 123.5,438.1 128.5,436.6 132.1,435.9 130.5,435.7 133.1,435.8 134.3,432.4 127.8,431.6 128.3,433.6 128.3,433.2 133.2,429.3 135.1,429.0 132.5,426.9 133.1,425.6 132.4,425.8 133.6,424.4 137.1,424.2 137.3,424.2 137.2,421.9 133.4,420.7 135.9,421.2 132.9,423.1 131.8,426.1 133.1,424.4 135.1,424.0 134.1,422.7 135.2,421.3 131.3,421.2 134.5,422.2 137.4,423.1 140.2,421.4 144.8,421.4 140.4,420.7 142.5,420.6 140.9,416.6 145.6,416.2 149.7,413.1 148.6,412.5 146.9,412.0 142.9,413.7 140.6,414.9 137.3,414.9 133.7,416.2 134.4,416.7 133.1,418.7 131.2,418.6 139.3,422.5 137.1,422.5 139.0,421.1 130.5,417.3M121.2,438.4 119.4,438.1 115.7,437.3 115.3,438.9 118.5,442.0 123.8,438.9 124.0,438.0 129.8,441.5 130.6,437.8 135.5,437.7 134.4,437.4 137.0,438.1 133.7,439.3 134.2,438.3 131.2,438.0 131.8,437.2 129.7,437.4 115.4,447.4 113.2,448.1 113.1,446.7 111.6,444.6 117.5,444.8 112.3,446.4 114.8,445.1 112.1,447.6 105.5,446.9 107.4,448.6 107.8,449.1 108.3,448.7 111.9,450.0 107.7,441.3 112.1,443.6 113.7,443.3 117.3,443.5 116.1,443.8 118.4,442.2 118.4,441.9 116.7,446.0 121.6,447.5M121.2,438.4 120.3,436.7 119.6,433.5 120.3,431.6 119.7,429.7 119.9,431.1 121.9,431.3 124.3,430.8 123.1,430.8 125.2,427.3 129.1,429.6 129.0,429.9 131.2,430.3 132.3,431.8 126.3,429.7 128.0,430.5 128.2,430.7 129.7,432.1 130.0,434.3 129.7,437.0 124.3,438.3 127.4,439.3 126.8,439.1 126.6,441.9 125.2,438.4 119.3,439.5 120.2,437.9 117.8,444.2 113.0,445.3 111.7,445.6 112.8,445.9 116.2,446.8 115.2,451.5 112.4,444.0 114.1,441.6 120.7,441.3M121.2,438.4 124.9,440.7 124.2,438.5 121.3,438.1 118.3,438.2 118.2,439.2 120.4,440.3 121.3,438.8 125.1,438.0 122.7,436.7 124.6,435.7 126.6,432.1 129.7,432.2 135.1,429.0 136.1,429.5 136.1,431.1 133.5,431.0 134.4,428.6 137.7,428.5 135.2,430.5 133.2,429.8 136.2,428.6 133.2,428.8 134.2,432.1 137.9,431.8 140.8,432.2 139.5,427.8 134.4,428.1 139.9,429.5 141.0,430.8 140.1,428.3 135.7,425.8 135.3,427.0 133.5,425.7M121.2,438.4 120.9,439.2 117.5,440.1 117.9,442.5 117.6,443.3 119.7,446.5 117.8,449.7 119.2,448.8 122.6,447.7 126.1,446.6 124.0,450.0 124.4,449.2 122.9,451.8 121.4,450.5 125.2,449.3 126.0,449.6 126.4,447.5 126.2,446.8 122.6,444.9 122.3,443.3 121.7,440.5 119.7,441.5 122.6,441.7 124.5,442.5 128.3,439.6 129.2,440.8 129.1,438.1 128.5,438.7 134.1,438.5 137.2,437.7 141.2,435.7 143.8,434.0 138.1,434.4 139.9,433.1 136.5,433.0 134.3,432.2 136.7,430.0 140.3,427.2 141.4,425.4 136.2,424.7M121.2,438.4 117.0,442.7 113.9,445.0 110.8,443.6 110.3,444.0 108.5,443.1 108.7,443.3 110.4,443.1 111.7,440.3 116.8,438.9 119.2,440.6 119.6,440.6 123.6,439.1 118.0,435.4 124.5,434.3 122.6,436.2 122.3,437.9 115.2,436.1 116.0,435.8 116.2,437.7 115.7,437.4 117.2,435.8 115.7,435.3 116.7,433.8 115.3,437.2 120.6,437.0 120.3,435.8 120.1,437.1 116.6,437.2 119.7,434.5 124.1,434.0 124.0,433.4 126.0,432.4 130.5,430.7 132.0,430.7 134.5,430.1 131.9,429.6 136.3,431.3 142.5,432.5 145.4,431.4 147.3,432.7 148.1,431.1 151.6,428.8 150.5,428.1 151.3,428.8 150.6,426.6 153.8,423.1 154.4,420.2M121.2,438.4 117.4,437.0 116.5,435.0 114.5,436.8 113.1,438.0 111.6,437.5 109.7,433.8 113.5,434.8 118.3,434.4 116.5,432.4 114.2,432.2 113.6,431.9 107.1,431.4 100.9,432.3 95.1,430.3 96.2,427.5 99.4,427.2 98.4,429.9 97.3,427.1 92.6,428.8 92.9,429.2 92.6,426.9 92.0,427.8 94.1,429.9 92.3,427.2 91.6,428.1 90.2,430.3 88.2,427.6 91.0,425.4 95.5,423.7 88.7,430.0 87.8,431.4 89.1,433.1 94.1,430.8 94.1,432.1 96.0,432.3 99.7,431.1 95.7,429.7 91.5,429.5 92.0,433.1 88.6,431.7 88.7,429.5M121.2,438.4 127.2,438.7 127.1,438.8 130.1,440.6 129.3,436.9 130.5,438.6 129.2,438.6 129.1,438.7 129.8,438.9 127.4,437.0 129.5,433.9 131.8,434.1 128.3,434.4 130.7,430.2 130.4,432.6 131.7,432.2 129.9,433.2 129.8,429.8 128.3,428.3 131.2,425.6 138.5,425.2 130.7,426.9 133.6,426.9 131.1,427.0 134.8,424.9 132.5,427.5 135.4,426.2 134.0,426.9 132.8,428.1 130.1,429.7 130.6,429.5 130.2,428.8 129.0,429.9 122.4,427.0 122.5,427.8 119.1,429.1 117.4,428.2 118.3,426.1 122.8,422.9 126.8,421.4 123.8,420.6M121.2,438.4 127.3,440.7 128.4,441.2 128.8,442.4 132.5,443.6 132.1,445.3 135.1,444.5 131.6,441.7 128.8,438.4 132.0,439.7 134.4,439.4 133.6,441.3 144.5,440.1 144.5,438.9 141.7,438.4 141.3,439.0 138.0,440.5 135.8,439.2 136.1,435.0 138.3,437.1 139.7,437.3 143.5,438.4 147.8,436.8 145.1,439.3 142.0,438.1 141.1,437.5 142.1,437.2 141.0,436.4 141.7,437.0 140.5,435.8 143.9,437.3 146.7,433.9 143.2,434.4 150.1,440.1 154.7,440.2 153.0,438.4 146.5,438.2 146.6,437.4 147.6,440.1 142.5,439.6 144.4,440.3M121.2,438.4 126.5,436.4 134.1,433.8 133.2,436.1 132.3,434.5 132.8,432.1 136.6,430.4 133.4,429.6 133.1,431.7 138.0,430.7 140.0,432.2 143.3,431.6 145.2,434.3 142.9,435.5 145.5,435.8 142.5,434.5 145.6,432.3 148.1,433.1 146.6,431.7 148.7,432.1 146.9,432.8 149.6,430.4 150.1,435.9 149.1,433.9 151.2,433.7 151.2,431.3 151.4,429.2 151.4,426.9 155.2,421.7 156.2,422.4 155.2,421.2 154.2,423.4 156.5,421.7 156.7,418.8 157.4,419.7 158.4,418.4 158.8,417.4 159.2,417.7 157.6,417.3 162.2,419.4 158.6,418.1M121.2,438.4 117.8,436.9 116.2,428.7 119.0,428.4 123.3,427.0 126.3,428.1 126.7,427.1 128.4,428.1 132.4,432.8 128.8,431.7 124.6,429.0 123.8,429.7 123.5,428.6 128.0,428.1 131.2,428.4 136.2,429.5 140.0,434.2 137.7,432.3 137.3,427.5 138.9,426.6 138.1,428.9 136.9,429.6 135.5,430.1 134.2,431.6 135.2,433.8 136.6,434.0 134.5,433.5 134.8,437.1 139.5,437.0 139.3,436.5 143.1,435.7 143.4,434.5 141.7,436.9 144.8,438.3 144.7,438.5 146.4,439.8 146.4,437.4 148.9,438.3 151.2,433.8 147.0,435.5 146.9,435.9 145.7,437.7 148.6,436.6 144.8,437.8 143.6,437.4 147.0,435.9M121.2,438.4 119.0,436.3 121.8,434.9 121.0,434.9 122.7,438.9 121.6,440.2 122.0,438.4 120.7,440.6 118.7,441.2 115.6,438.6 112.5,439.5 111.1,439.0 112.1,438.4 110.5,439.2 105.8,434.9 105.0,435.5 106.8,435.1 108.9,434.9 111.7,432.6 117.9,434.8 113.4,434.6 112.7,436.3 116.8,435.4 113.2,435.2 111.6,429.9 107.5,429.6 109.7,429.4 108.1,429.7 108.7,428.8 113.8,427.5 114.5,426.8 110.9,426.0 109.1,427.9 108.6,430.6 103.6,429.8 106.4,426.8 109.4,425.1 107.1,424.0 104.1,424.4 105.2,426.0 102.1,424.7M121.2,438.4 113.6,437.2 113.2,435.6 108.9,437.8 109.6,434.1 104.6,438.7 105.3,438.7 107.8,439.5 104.5,436.5 109.6,436.9 111.3,435.3 111.4,436.0 112.0,435.3 115.2,435.7 116.8,434.5 118.4,435.9 115.7,436.6 108.8,433.9 107.1,432.8 106.1,434.7 106.8,435.1 108.3,436.2 104.1,435.4 106.4,435.9 103.2,438.9 106.5,435.2 103.4,432.3 99.7,433.0 94.6,435.9 94.3,435.5 96.6,432.8 93.5,433.8 97.9,437.8 100.4,437.6 98.7,436.2 98.3,436.9 98.7,437.2 103.0,439.2 106.2,438.2 109.0,434.5 107.3,434.4 105.7,432.2 106.6,431.7 112.8,435.8 115.3,434.6 108.3,438.6 106.4,438.2M121.2,438.4 119.8,438.1 116.5,438.9 114.1,438.4 114.5,439.6 112.4,441.9 110.0,445.3 113.0,445.0 111.9,445.6 110.8,447.1 111.7,448.7 120.7,446.5 121.0,447.2 124.0,450.3 119.5,449.0 119.1,452.1 124.6,454.4 121.8,451.8 122.6,449.8 122.6,448.0 120.7,444.4 122.4,445.3 121.1,443.3 127.0,446.4 121.5,449.2 124.1,446.9 121.1,444.4 128.1,441.6 129.5,441.5 134.7,442.4 139.1,439.7 151.4,439.9 140.6,440.5 141.9,441.1 143.3,441.0 142.6,441.5 142.9,443.2 143.6,440.5 142.2,443.2 145.3,444.9 140.4,437.5M121.2,438.4 125.5,437.3 127.1,438.6 123.4,436.7 129.7,438.8 132.7,440.8 137.4,439.8 138.8,438.8 134.7,439.8 136.4,441.8 139.5,442.7 145.3,443.8 149.6,446.4 154.2,447.4 156.2,446.3 156.1,448.3 156.9,447.0 158.7,446.9 158.5,449.0 159.3,449.2 159.0,449.6 154.9,446.3 153.7,447.6 162.7,448.5 161.2,448.5 160.9,449.3 166.2,448.3 167.2,445.8 170.7,447.3 173.7,447.2 171.7,445.2 170.1,442.4 167.9,439.0 169.8,440.6 171.8,440.5M121.2,438.4 123.7,440.3 124.1,442.1 124.5,444.0 127.3,444.2 127.6,442.3 128.0,442.9 129.9,443.8 127.7,443.8 126.6,442.7 124.8,443.0 125.6,442.5 124.4,443.3 124.4,439.9 122.2,438.8 115.8,439.2 118.7,441.3 117.2,441.5 118.7,438.9 117.8,439.5 119.2,439.5 120.8,442.0 118.6,439.5 119.1,441.4 122.9,440.2 127.6,440.0 129.1,441.0 127.1,442.1 126.6,445.2 127.4,446.7 130.4,446.8 134.9,448.2 132.1,445.6 127.7,443.8 135.3,442.8 132.6,440.4 132.8,439.3 127.6,438.7 130.5,440.4 134.6,442.0 127.6,440.4 124.4,439.9 126.2,441.6 122.4,443.9 121.1,443.3 120.1,443.5M121.2,438.4 121.9,438.9 122.3,439.3 125.8,440.8 124.3,442.6 127.4,443.1 124.9,443.5 122.2,442.0 120.1,443.6 125.8,444.6 125.3,444.2 123.8,443.0 122.9,443.9 125.1,443.3 119.2,440.6 117.6,441.0 123.6,438.1 121.0,436.4 118.7,439.6 119.9,439.4 119.7,438.8 117.8,439.1 117.0,439.4 118.1,439.5 113.6,437.5 113.6,438.7 106.9,437.4 103.3,433.5 103.1,431.7 103.5,433.6 102.0,434.5 103.1,431.6 108.0,433.6 109.8,436.7 102.6,435.3 105.7,436.8 108.2,435.8 105.2,433.3 105.0,433.4 106.6,432.5 110.6,433.7 111.2,436.5 110.2,436.6 108.8,436.0 107.5,435.2 106.3,435.6 106.2,434.5 104.1,434.2 108.7,433.3M121.2,438.4 121.9,438.1 115.6,439.3 108.0,439.7 101.8,435.7 97.9,436.5 101.3,438.0 97.1,437.8 96.8,438.6 91.6,438.1 92.2,439.1 92.3,437.7 91.3,434.9 84.6,435.6 84.1,435.1 83.9,434.0 80.1,433.5 81.1,433.5 83.4,430.6 87.9,428.5 86.3,427.3 86.0,426.9 83.9,427.9 85.6,430.5 83.0,429.6 76.6,429.0 85.2,430.9 85.1,430.0 85.0,430.9 84.3,430.6 81.7,433.2 75.4,432.3 72.7,431.3 72.0,429.7M121.2,438.4 123.3,437.4 125.7,437.3 127.2,437.5 128.2,436.2 126.7,434.6 122.8,439.8 122.2,439.3 124.0,442.2 120.6,443.4 119.0,445.1 118.0,446.5 114.4,444.2 113.9,442.2 116.4,439.6 116.3,438.8 111.5,439.5 110.3,440.2 110.5,439.0 107.4,436.4 108.3,437.6 107.8,437.1 103.9,438.0 101.9,438.7 101.1,437.4 94.6,436.5 91.2,436.8 89.1,432.3 85.3,434.3 84.9,436.8 86.5,434.3 83.9,432.4M121.2,438.4 120.8,439.8 121.8,436.0 122.9,434.7 127.1,435.2 124.7,433.0 121.6,432.2 121.5,429.3 120.3,431.4 124.0,433.7 128.4,435.2 128.1,434.4 132.9,435.5 133.8,434.3 136.0,435.1 133.9,436.2 132.0,435.3 129.7,434.8 129.6,434.4 129.3,434.3 128.3,431.4 131.0,431.9 129.5,431.2 126.6,431.4 128.9,430.9 129.3,429.2 128.0,429.8 128.9,432.2 130.6,431.9 130.3,431.9 129.6,429.9 132.1,430.2 133.5,430.6 133.2,431.9 132.5,432.7 135.4,433.2 128.5,432.5 127.0,432.7 129.0,425.9 126.0,424.1 130.4,426.3 131.9,426.3 131.9,424.7M121.2,438.4 124.0,438.3 125.7,437.7 128.9,438.8 127.3,439.3 125.6,438.1 128.7,438.3 129.1,441.2 126.7,440.0 123.1,435.6 121.9,434.2 130.2,434.3 131.5,435.3 131.0,437.0 132.6,431.9 132.7,432.6 135.0,431.1 139.8,429.5 138.2,431.5 141.3,430.0 144.2,427.8 141.8,425.7 139.0,425.8 137.0,428.3 140.9,427.4 150.2,427.5 147.5,427.5 154.0,427.9 151.2,428.4 154.1,425.2 162.0,425.8M121.2,438.4 125.5,434.3 125.8,436.1 123.8,436.0 124.0,435.3 129.0,436.6 129.7,440.1 126.4,441.8 134.6,440.6 133.7,440.4 134.1,442.0 135.7,444.5 135.5,444.6 139.9,446.9 147.1,445.3 149.1,444.6 149.6,443.5 153.7,443.5 158.8,443.5 156.0,442.2 150.7,441.9 154.0,440.5 154.6,443.0 155.1,443.7 152.2,444.4 151.0,444.3 148.1,444.1 146.2,443.5 143.5,440.6 137.9,439.9 137.5,438.7 138.3,438.8 136.1,436.8 141.6,435.0 141.0,436.7 145.2,434.7 148.5,432.1 152.4,433.5 151.6,434.7 149.1,434.0 146.7,434.8 148.8,435.2M121.2,438.4 121.6,436.8 121.7,438.2 116.6,436.9 112.2,438.2 113.9,438.4 113.6,436.8 111.4,436.9 110.1,435.6 110.3,431.0 109.2,430.5 107.5,431.3 105.4,432.7 104.3,436.9 107.2,439.3 101.3,439.8 104.2,439.7 103.8,438.7 101.6,440.4 100.0,440.0 99.6,443.0 96.9,442.6 101.7,442.5 103.1,442.1 99.1,440.4 98.3,439.2 99.4,441.1 98.0,443.7 95.9,442.6 91.7,441.5 90.8,443.4 89.1,436.7 92.1,437.7 92.0,437.3 91.5,435.2 86.7,430.9 89.8,430.7 90.8,433.3 88.2,431.4 89.3,430.5 91.2,433.1 86.1,431.3 89.9,431.8 90.8,431.9 94.2,430.6 91.5,428.9 89.8,427.7M121.2,438.4 123.9,440.5 120.6,439.9 115.0,436.7 110.6,434.4 109.5,430.5 107.0,429.2 104.0,428.2 100.6,428.7 100.7,427.3 105.1,427.4 104.6,428.1 105.3,426.2 109.0,425.2 109.2,425.6 109.8,423.1 107.5,424.2 106.1,421.8 103.6,419.5 98.9,419.9 96.3,421.9 97.1,421.4 100.3,419.1 102.6,419.1 101.5,419.3 100.1,419.5 103.4,418.9 104.2,419.6 105.4,430.0 109.4,429.8 109.9,429.0 107.4,429.6 106.9,428.1 107.5,427.3M121.2,438.4 122.8,435.8 121.8,435.4 121.5,433.6 120.9,431.0 118.9,430.2 120.0,430.5 123.6,429.7 121.7,428.6 125.5,429.8 128.5,433.7 127.4,433.0 130.5,435.4 133.3,435.1 132.1,433.6 137.2,434.5 134.2,430.1 141.2,430.3 141.8,429.8 138.9,427.5 137.6,429.6 137.1,427.8 132.4,428.2 135.5,427.3 134.2,428.3 136.1,427.8 135.5,428.5 141.0,426.3 145.5,424.0 148.8,423.4 146.7,424.0M121.2,438.4 126.0,439.1 142.6,439.1 144.3,438.5 139.8,437.8 138.9,437.9 138.0,437.4 136.1,435.9 137.9,434.6 136.7,432.8 132.9,432.8 133.3,431.4 138.1,428.8 137.3,426.9 137.7,426.2 142.5,426.3 143.9,423.1 149.9,424.5 151.2,424.1 153.4,425.6 148.6,426.6 148.5,429.7 150.6,429.6 151.0,431.2 154.7,430.6 153.8,430.7 156.1,429.9 155.8,428.3 154.7,427.8 151.9,427.3 151.5,428.5 150.8,427.8 147.9,428.4 149.6,427.8 148.2,423.6 153.5,423.5 150.9,425.4 149.2,423.3 149.3,423.7 148.2,424.5 144.4,424.1 149.2,423.2 147.9,421.5 146.8,419.7 143.0,417.1 146.9,418.3 144.0,419.2M121.2,438.4 123.2,436.6 124.1,437.6 125.2,437.3 129.5,435.7 127.9,436.0 125.3,434.3 120.9,433.6 118.3,433.9 116.1,433.3 114.9,433.1 115.5,433.8 119.5,432.2 118.5,433.8 122.6,435.0 121.3,436.6 123.3,436.0 120.4,433.7 119.8,434.7 118.8,434.4 114.7,435.2 124.5,435.0 122.2,434.3 116.9,432.7 119.9,430.1 115.6,427.6 118.4,428.2 115.6,426.7 113.6,427.7 115.0,428.6 116.6,431.8 113.8,436.1 112.3,436.9 110.5,432.9 110.7,433.0 108.0,431.0 108.6,432.4 111.9,434.5 113.7,432.2 112.3,431.8 116.8,432.0 116.3,432.7 114.8,432.8 109.9,432.0 113.9,431.4 115.9,432.0 120.1,434.7 123.2,434.7 121.9,436.9M121.2,438.4 119.2,436.7 123.0,434.3 123.4,435.1 119.3,436.3 123.7,436.9 123.0,440.1 119.5,441.4 122.9,441.9 124.9,443.4 129.9,440.6 131.5,439.7 124.8,441.9 126.7,441.5 130.2,440.0 132.2,436.0 134.6,433.7 131.0,435.0 132.0,432.6 131.2,429.2 125.3,425.8 125.9,426.4 125.6,424.3 123.0,423.0 125.9,420.3 127.7,423.0 131.8,422.5 133.4,421.4 136.4,423.4 137.6,421.4 137.2,419.8M121.2,438.4 122.7,436.4 122.8,436.3 122.1,433.7 120.5,430.8 121.6,430.9 118.7,428.7 118.2,427.0 116.0,425.6 119.9,424.4 120.5,425.1 118.9,423.1 115.6,425.5 116.6,426.9 119.8,429.8 123.3,427.9 118.2,429.3 124.1,430.1 123.5,430.4 124.6,430.1 129.2,428.7 129.5,426.4 126.8,428.5 126.0,430.6 123.7,429.6 118.9,429.2 118.1,430.6 116.8,426.6 118.3,429.5 117.6,428.0 120.6,422.6 126.3,421.2 128.7,422.4 130.3,425.4 133.0,425.9 133.2,426.5 135.4,426.0 134.0,425.3 135.7,424.7 132.3,424.8 133.4,424.7 134.4,422.7 133.0,420.9 135.2,419.7M121.2,438.4 124.6,440.8 127.2,439.1 127.5,436.5 126.9,433.8 124.4,434.1 124.0,434.4 136.0,438.8 140.3,438.8 131.9,439.5 131.3,440.6 133.4,440.5 134.5,441.1 136.1,440.3 133.8,441.3 129.2,440.3 121.2,439.3 126.7,439.9 123.5,436.9 121.5,435.2 121.4,435.5 128.9,439.4 132.1,438.6 132.1,436.3 137.3,435.6 136.6,434.6 132.1,437.7 129.4,435.6 128.6,436.5 125.0,436.0 123.7,436.6 125.3,434.8 125.5,435.2 122.4,433.1 121.5,431.7 124.5,426.3 122.9,427.2M121.2,438.4 127.1,439.8 129.1,440.6 132.4,439.6 136.9,437.1 133.2,433.9 136.2,432.5 141.5,432.1 144.0,430.4 142.8,430.6 140.7,430.3 139.9,428.5 136.6,422.9 138.5,421.9 143.1,420.2 146.0,420.3 147.2,423.3 147.4,422.7 148.8,421.7 152.2,420.9 154.5,418.1 153.0,415.8 151.5,416.1 150.8,410.7 152.1,411.2 155.9,412.2 146.0,413.7 145.2,411.0 140.5,413.0 141.7,413.7 143.0,414.2 144.5,415.9 145.6,416.8 147.1,416.0 148.4,416.2 154.8,415.8 155.8,413.1 160.3,414.3 161.7,412.5 158.5,410.1 156.0,412.3 152.7,413.7M121.2,438.4 124.3,437.9 123.1,442.2 121.9,441.2 119.5,440.5 120.9,442.2 121.8,437.7 117.3,442.6 116.4,444.1 117.8,444.4 119.6,448.2 116.7,448.4 114.8,448.9 116.5,447.5 120.3,446.9 120.7,445.6 118.8,446.2 119.2,445.2 119.2,444.2 125.8,447.3 123.4,446.5 124.8,446.4 124.8,448.5 125.9,446.3 129.6,445.8 133.8,447.0 132.8,444.5 135.1,442.3 135.3,442.4 137.8,439.5 136.8,440.4M121.2,438.4 121.1,438.1 120.4,439.7 114.1,441.6 113.2,441.4 117.1,439.3 117.2,435.9 117.7,435.1 113.7,433.0 116.0,431.9 120.0,433.1 118.5,433.3 114.5,431.9 112.2,435.2 111.2,433.7 110.9,437.1 112.1,438.1 106.8,437.1 107.5,436.5 110.9,436.1 113.3,437.4 115.9,436.8 113.4,437.9 112.1,439.1 113.3,438.4 110.6,438.8 112.7,438.5 113.5,441.1 115.3,440.2 113.5,441.2 110.8,443.0 104.0,434.9 108.1,432.5 104.9,430.4 109.5,429.7 104.1,430.3 100.9,427.3 100.3,426.5 99.3,426.6 98.3,428.1 101.8,427.3 101.1,427.9 98.5,427.1 103.2,426.8 104.4,428.8 104.5,429.6 104.8,432.2 113.2,428.8M121.2,438.4 123.9,438.8 124.6,439.3 138.3,446.2 132.8,447.8 132.1,446.3 133.7,442.1 131.3,442.1 130.3,440.9 130.2,437.9 131.7,438.1 135.0,436.4 138.0,436.9 137.6,433.7 131.2,433.6 132.9,433.0 131.3,429.4 127.4,430.9 129.6,433.0 127.8,429.9 130.9,434.4 130.6,433.8 129.6,431.5 128.1,428.6 127.8,426.0 135.3,425.5 133.3,428.3 131.9,428.5 132.8,427.9 131.0,426.5 131.0,427.9 129.3,426.1 127.5,425.5 133.3,425.3 137.3,424.5 133.5,420.8 133.2,416.9 137.6,416.1M121.2,438.4 122.3,439.3 121.2,438.5 123.3,440.6 120.3,442.3 118.7,439.2 116.0,439.3 113.5,439.9 112.6,437.6 113.5,437.9 111.5,439.6 108.0,438.2 105.3,439.6 104.0,439.9 100.2,436.9 98.2,438.2 94.3,437.8 90.7,439.7 94.4,439.8 94.6,440.3 90.7,439.9 97.1,440.4 99.6,439.6 100.1,441.9 103.2,440.4 107.0,440.0 110.1,438.1 118.2,437.2 117.9,432.3 113.9,433.4 107.2,431.7 112.3,432.8 110.8,432.3 109.9,431.7 109.9,432.3M121.2,438.4 122.0,441.2 120.6,442.7 122.9,442.7 125.8,442.1 123.8,442.5 125.1,440.3 126.6,441.4 129.9,442.0 129.2,442.5 128.3,435.4 131.3,433.9 131.7,433.7 130.3,435.3 133.4,427.8 135.0,427.5 133.9,428.0 142.6,423.9 146.1,426.7 143.6,425.7 145.1,423.2 148.3,418.5 142.8,419.0 141.8,417.8 147.1,416.4 148.2,415.8 147.0,415.9 139.8,413.6 138.5,411.7 138.4,412.1 137.6,414.9M121.2,438.4 120.5,436.6 123.1,437.0 119.0,437.8 119.8,443.9 121.6,441.3 123.7,443.4 119.0,445.2 120.5,447.5 118.9,446.5 124.9,444.9 126.1,447.6 123.8,445.7 126.9,441.9 119.4,439.7 117.0,440.8 128.0,439.8 127.7,439.9 122.5,440.2 121.9,440.4 118.0,445.6 120.0,444.6 119.2,445.3 118.8,445.4 121.4,446.2 127.3,446.1 124.8,446.4 126.6,447.1 122.5,444.6 120.9,444.2 124.4,442.7 121.9,440.9 121.8,439.8 125.4,438.2 127.7,439.7 134.0,438.4 133.1,440.7M121.2,438.4 125.5,437.0 119.1,433.8 117.8,435.7 123.7,433.6 121.6,434.7 121.0,435.6 117.2,433.8 119.2,432.0 119.2,429.9 122.4,431.2 124.3,432.9 126.9,435.1 123.7,432.6 122.6,432.2 124.4,435.0 130.2,436.7 128.8,437.2 131.6,435.9 128.1,432.7 127.9,432.7 125.0,431.4 124.1,432.9 126.8,431.7 128.3,428.7 128.5,429.3 130.2,432.1 132.9,432.1 134.1,432.4 134.6,430.8 135.6,429.2 141.6,429.2 144.5,428.7 139.0,428.7 138.1,428.5 138.0,430.5 141.3,430.1 138.4,427.1 137.3,426.2 138.5,428.4 137.2,429.5 136.4,427.5 140.0,427.7 136.0,427.3 140.0,427.2 143.6,424.7 139.2,423.1 141.0,422.2M121.2,438.4 122.4,440.2 121.8,443.3 123.9,440.8 127.0,440.9 126.4,441.8 119.9,442.5 124.3,441.8 123.7,441.3 123.2,442.6 121.7,441.3 123.8,440.0 123.1,438.4 123.5,435.9 128.8,432.2 130.5,433.4 130.9,434.0 132.8,432.6 129.0,433.0 128.1,435.7 127.9,437.2 127.3,433.9 126.9,436.6 128.1,436.1 126.5,432.5 129.3,430.3 132.9,431.8 133.9,430.0 134.6,428.5 133.0,427.1 140.3,428.5 138.9,430.7 139.9,430.6 139.3,432.2 141.3,432.0 138.8,433.2 139.8,431.7 138.3,430.7 135.4,431.0 136.9,431.8 136.3,432.9 140.0,433.5 141.8,431.3M121.2,438.4 121.4,442.5 118.1,445.5 116.7,444.2 121.1,445.5 124.0,442.6 127.7,442.7 131.4,443.9 131.7,446.1 133.2,448.1 134.4,448.5 131.2,448.4 132.6,448.6 133.5,448.3 123.2,440.7 121.2,440.8 125.0,439.6 126.8,436.1 129.5,434.7 130.5,431.8 131.1,432.6 135.0,430.7 134.8,429.3 136.6,431.8 136.8,431.5 138.4,430.2 136.0,428.2 136.4,429.3 138.6,429.5 133.4,427.9 124.4,423.0 129.1,423.2 131.1,423.0 137.2,422.3M121.2,438.4 118.9,438.4 120.9,438.0 119.3,439.5 120.3,437.8 119.5,434.0 117.4,432.3 121.3,427.8 122.6,424.7 122.3,424.4 124.2,426.3 128.2,425.8 129.6,426.2 131.8,425.6 128.0,426.3 126.3,427.2 127.2,428.5 129.0,426.5 127.4,427.3 124.3,427.4 127.0,427.8 139.7,435.5 138.3,433.0 141.4,433.4 139.0,433.8 138.2,432.9 139.8,431.6 138.7,429.7 136.5,428.9 130.8,429.5 129.8,427.6 128.1,429.3 130.0,429.2 126.8,429.9 126.5,429.5 126.4,427.9 127.6,425.3M121.2,438.4 121.1,439.5 121.2,442.0 123.9,442.0 123.5,441.0 123.2,440.8 123.8,441.7 125.3,440.9 121.7,440.0 119.3,439.3 122.8,437.6 122.9,436.7 123.4,434.9 125.0,432.8 126.4,433.8 125.8,433.6 122.9,431.1 126.8,430.3 132.2,429.9 131.5,432.4 125.6,434.0 125.2,435.2 124.6,433.8 126.9,429.0 128.2,429.2 131.8,428.5 131.7,428.0 127.9,429.9 132.2,427.9 137.0,427.4 136.3,425.7 137.2,424.5 134.8,419.1 137.9,419.8 140.4,422.0 140.7,421.8 143.1,420.5 141.7,422.5 147.6,417.6 145.4,417.9M121.2,438.4 119.4,440.0 112.3,440.3 111.8,443.6 114.7,441.9 118.7,442.2 119.3,439.7 122.2,439.3 123.2,440.3 120.2,442.4 123.9,441.8 120.1,439.8 121.5,440.6 128.4,441.2 129.5,440.9 132.1,442.7 124.1,448.2 125.1,447.5 121.8,446.2 120.2,445.0 120.4,444.5 121.9,443.2 119.4,446.0 120.8,447.1 116.5,447.7 114.4,445.8 111.6,444.9 108.5,446.1 111.9,446.5 111.0,446.2 109.5,447.6 98.7,443.1M121.2,438.4 121.5,437.2 121.3,435.3 119.1,436.4 118.3,436.7 122.5,434.5 126.8,438.3 127.4,437.6 128.0,435.4 128.4,435.8 125.6,436.1 122.3,436.3 125.9,436.3 127.2,438.5 131.4,438.4 130.8,439.1 131.9,439.0 130.9,437.5 129.7,439.2 129.3,439.9 125.5,438.5 125.8,440.5 128.8,440.3 129.7,440.7 129.9,441.3 131.3,441.6 121.1,440.3 125.3,439.0 128.0,439.4 132.0,439.8 132.9,439.0 132.4,436.6 135.2,434.8 137.0,431.3 133.2,431.5 135.3,431.4 133.3,429.1 134.7,432.6 135.8,431.8 133.8,431.9 133.8,433.9 131.8,431.2 132.8,432.1M121.2,438.4 124.6,437.9 122.0,439.1 121.2,442.6 122.4,445.2 120.2,441.6 123.5,438.9 115.7,445.5 117.3,446.2 114.6,443.4 114.7,441.7 116.2,443.2 115.4,444.9 113.5,443.8 115.3,445.0 120.8,443.6 121.0,441.5 124.2,440.1 128.1,439.6 128.1,438.7 129.0,439.9 132.0,436.5 132.0,437.8 133.1,436.8 137.1,434.9 138.2,434.1 137.9,433.0 140.2,431.3 140.1,432.9 135.8,431.1 137.8,430.5 135.2,430.8 137.6,431.2 137.8,432.7 131.7,437.1 129.7,438.4 124.7,434.5 125.0,433.3 126.9,437.1 124.3,434.4 130.1,431.6 130.5,428.5M121.2,438.4 120.9,437.2 125.9,436.0 122.7,438.3 115.1,439.6 116.8,437.6 113.9,435.9 112.1,434.3 109.7,435.7 109.4,435.6 110.6,435.0 104.4,432.5 101.1,429.1 102.2,430.5 100.2,430.3 99.8,429.9 96.9,431.1 93.3,434.4 95.8,434.5 95.1,431.4 94.7,425.1 91.2,423.2 91.6,422.0 92.2,422.7 93.4,421.5 93.4,420.0 97.7,424.3 104.6,422.8 108.2,422.6 105.2,421.7 104.1,422.4 105.8,422.4 108.2,421.3 110.0,425.0 111.7,425.7 106.6,427.1 105.5,428.4 111.7,430.8 113.2,430.7 114.9,434.0 110.0,433.9 111.9,430.5 117.8,429.6 119.8,428.3 119.2,427.0M121.2,438.4 121.0,438.4 120.7,436.4 118.6,436.9 117.2,438.1 114.6,436.7 112.3,438.4 112.2,438.7 108.6,437.1 103.7,437.0 97.6,438.2 91.2,431.2 90.4,430.3 91.0,429.4 92.6,428.2 90.2,426.6 88.1,424.3 87.8,424.3 89.4,424.3 89.2,424.9 89.6,424.1 87.2,426.0 82.8,424.7 81.2,424.0 80.1,423.6 76.5,425.0 73.8,424.8 70.0,423.0 71.7,422.4 79.4,421.4 78.1,422.1 74.6,419.4 68.8,418.4 61.5,418.2 58.4,418.3 55.5,419.4 53.6,419.2 50.7,418.2 49.2,419.0 47.9,417.2 46.2,416.4M121.2,438.4 118.9,439.5 116.9,439.8 115.6,438.9 115.8,438.0 115.9,435.5 112.0,433.9 115.4,433.2 109.4,432.8 105.4,432.2 102.5,432.1 103.7,430.8 103.1,429.5 104.1,428.0 108.3,433.4 103.5,432.9 104.1,430.5 106.6,427.5 102.0,426.4 101.3,426.3 101.3,426.4 101.2,426.5 98.3,424.6 96.7,423.8 98.7,422.3 99.4,421.6 100.9,420.5 102.0,417.5 98.8,418.3 94.6,419.3 84.8,418.7 89.4,417.0 83.3,420.4 77.1,420.4 72.1,421.2 72.7,420.4 67.8,419.2 64.0,417.0 56.4,413.3 53.5,413.3 53.2,410.4M121.2,438.4 122.4,437.8 124.7,436.0 126.0,436.7 129.9,439.1 130.9,439.3 129.3,440.2 132.9,440.6 130.8,437.4 132.8,437.4 136.1,436.0 137.0,436.3 140.8,438.5 142.2,439.9 142.4,438.8 147.6,437.6 138.5,435.2 138.1,436.1 145.5,437.5 147.6,437.5 149.4,436.5 149.1,436.0 151.3,434.4 152.6,434.6 155.5,434.4 153.3,432.9 148.5,432.2 154.8,431.7 160.3,436.8 160.0,437.7 160.9,437.6 162.5,437.7 164.1,436.8 168.7,434.7 169.1,435.6 173.0,434.8 172.3,433.6 172.3,431.1 171.7,431.0 172.2,432.0 176.2,432.4M121.2,438.4 126.9,437.5 128.9,434.9 132.0,434.7 134.3,436.5 138.5,434.5 140.2,435.9 137.9,435.0 136.2,437.6 136.3,438.9 139.6,439.5 141.6,437.0 140.2,437.0 142.0,435.3 143.5,435.4 141.7,433.5 142.1,431.8 142.0,431.9 146.0,433.1 149.3,431.9 153.4,432.5 149.9,429.2 153.2,428.4 154.3,426.1 152.7,426.4 153.4,426.1 161.6,428.2 163.1,427.9 171.2,427.0 169.4,428.5 171.2,430.8 175.4,427.7 180.2,426.2 183.8,427.7 184.1,426.8 186.1,427.1 186.0,428.1 184.0,430.2 184.3,430.5 185.6,431.7 189.2,434.4M121.2,438.4 120.9,439.3 122.1,439.5 124.5,440.5 126.2,440.1 127.5,439.6 129.8,439.3 126.5,438.7 127.2,439.1 128.5,438.8 131.1,437.5 133.3,438.3 133.1,440.5 134.5,440.2 139.3,440.6 137.5,441.7 140.9,440.8 143.1,439.6 146.2,439.9 146.2,441.1 141.3,439.7 142.8,440.6 143.2,442.5 148.0,443.9 148.5,445.4 155.2,446.3 161.6,447.5 165.1,445.5 172.6,445.2 173.3,444.9 175.6,445.7 171.2,444.7 174.2,444.2 171.9,443.1 175.9,442.4 175.6,441.8 182.1,442.9 181.4,443.1 183.7,444.2 184.1,445.6 183.2,444.4M121.2,438.4 115.8,440.6 112.1,443.6 107.2,444.9 104.7,442.8 103.2,439.8 98.3,439.1 102.9,439.7 101.4,438.7 99.8,436.6 99.6,435.0 93.9,433.2 94.8,433.8 94.2,433.1 97.7,430.9 93.9,429.0 94.2,425.6 88.7,426.5 88.4,425.7 90.7,426.9 88.8,423.5 86.1,423.3 84.2,420.3 85.9,419.5 82.6,425.5 84.1,423.7 77.8,421.2 77.9,419.0 79.4,415.9 77.7,417.6 73.9,416.1 75.8,415.8 77.4,414.9 79.4,411.5 86.3,408.9 88.8,406.8 88.8,403.2 87.8,404.0 80.9,401.9 78.5,402.9 76.2,402.4M121.2,438.4 120.6,439.9 114.5,440.9 116.1,439.7 116.3,440.4 115.6,442.0 110.4,441.2 106.8,441.4 101.8,442.5 103.5,443.1 103.7,442.1 103.3,442.8 104.9,445.8 102.5,447.7 99.3,447.9 99.4,449.5 99.7,452.5 99.0,451.8 99.1,452.1 96.9,451.0 98.3,451.9 95.9,452.7 94.0,452.3 92.7,454.1 90.4,452.5 91.5,454.2 90.3,455.1 90.9,456.1 93.2,456.0 92.5,455.0 88.3,455.3 87.2,455.9 87.1,455.9 84.2,456.1 81.3,453.9 78.8,453.2 96.4,451.5 92.2,450.8 91.6,451.3 91.1,453.5 91.2,454.4M121.2,438.4 125.1,436.0 127.7,437.3 129.5,437.0 132.0,437.5 136.3,439.2 133.8,438.7 131.0,439.6 124.9,440.9 132.2,440.8 126.7,439.8 131.7,441.4 132.0,439.8 134.2,439.9 136.4,441.4 139.1,440.5 140.9,441.5 141.9,440.8 148.1,443.8 148.4,444.6 149.5,444.1 146.5,443.1 147.8,441.6 145.0,438.9 148.6,440.3 156.1,440.4 156.6,441.0 157.2,441.7 158.4,443.3 158.0,444.4 155.8,443.0 159.4,444.6 157.0,445.5 161.2,447.5 161.1,448.8 164.9,450.2 163.1,450.9 165.8,451.9 164.9,453.4 169.3,453.0 171.2,450.4M121.2,438.4 122.4,439.8 114.5,440.5 119.6,441.9 118.1,440.4 125.7,438.1 126.5,440.3 123.7,440.2 123.3,440.1 128.6,440.5 131.6,441.4 133.9,442.4 139.6,440.0 140.1,440.4 139.6,440.2 143.1,440.2 146.2,440.4 152.3,437.4 155.6,437.4 157.3,435.6 157.3,434.7 155.4,435.2 158.8,434.1 159.1,433.6 160.1,435.2 161.6,437.1 165.9,436.8 169.4,436.9 168.3,438.6 169.3,438.2 166.4,435.9 166.4,437.2 163.0,438.5 161.0,439.0 162.9,437.1 167.9,436.1 170.8,436.9 170.5,436.5 172.7,436.8 176.1,438.2 179.2,438.4M121.2,438.4 121.6,439.6 128.0,440.5 125.5,440.4 122.8,436.6 124.0,435.6 123.4,436.4 127.6,436.0 125.7,435.6 130.5,434.0 129.0,432.2 134.4,434.4 138.3,433.5 137.9,432.1 139.3,430.3 140.7,431.2 149.2,430.6 152.5,430.6 155.4,432.6 154.6,430.4 159.2,429.5 159.0,431.0 160.7,430.1 160.7,430.4 162.9,429.5 160.8,432.4 160.4,431.7 159.8,431.4 159.0,432.2 162.1,433.0 161.3,430.6 160.7,430.4 155.6,429.0 159.0,430.3 157.0,431.4 158.0,431.8 158.8,431.3 161.0,430.8 163.9,432.6 165.7,429.9 166.2,428.4M121.2,438.4 115.8,436.0 114.0,434.9 113.5,434.3 110.2,433.2 107.6,433.2 106.6,432.9 105.6,431.3 113.4,429.9 111.8,430.7 111.3,431.4 110.1,434.1 104.9,432.1 103.8,431.2 102.2,428.5 96.2,430.0 98.4,430.7 93.9,433.6 93.9,435.1 95.0,435.5 90.6,434.2 91.0,433.8 89.7,431.3 88.6,432.5 92.0,433.5 95.3,430.7 94.0,429.6 91.4,428.7 88.0,429.6 88.5,429.1 84.5,429.7 87.3,427.6 83.9,428.4 76.8,429.7 73.5,429.2 69.8,431.1 69.5,432.6 70.6,430.6 69.4,429.1 68.6,427.8 66.2,428.4" fill="none" stroke="#0072bd" stroke-width="1.05" stroke-linejoin="round"/><g fill="#0072bd" stroke="#14283c" stroke-width="0.6"><circle cx="104.8" cy="381.6" r="2.35"/><circle cx="64.6" cy="397.3" r="2.35"/><circle cx="91.4" cy="397.3" r="2.35"/><circle cx="108.5" cy="401.5" r="2.35"/><circle cx="112.6" cy="403.5" r="2.35"/><circle cx="84.5" cy="408.9" r="2.35"/><circle cx="88.6" cy="409.7" r="2.35"/><circle cx="94.9" cy="411.4" r="2.35"/><circle cx="105.7" cy="414.4" r="2.35"/><circle cx="66.6" cy="415.2" r="2.35"/><circle cx="115.9" cy="416.7" r="2.35"/><circle cx="71.2" cy="426.0" r="2.35"/><circle cx="86.5" cy="426.3" r="2.35"/><circle cx="108.5" cy="426.3" r="2.35"/><circle cx="120.9" cy="428.8" r="2.35"/><circle cx="78.7" cy="438.2" r="2.35"/><circle cx="119.2" cy="437.0" r="2.35"/><circle cx="81.2" cy="450.3" r="2.35"/><circle cx="67.9" cy="456.1" r="2.35"/><circle cx="100.2" cy="454.1" r="2.35"/><circle cx="128.2" cy="398.2" r="2.35"/><circle cx="144.8" cy="405.6" r="2.35"/><circle cx="138.2" cy="408.9" r="2.35"/><circle cx="144.4" cy="410.2" r="2.35"/><circle cx="152.7" cy="414.2" r="2.35"/><circle cx="166.0" cy="417.2" r="2.35"/><circle cx="169.3" cy="437.0" r="2.35"/><circle cx="183.3" cy="436.5" r="2.35"/><circle cx="183.3" cy="443.3" r="2.35"/><circle cx="147.8" cy="453.9" r="2.35"/><circle cx="162.5" cy="453.2" r="2.35"/><circle cx="108.0" cy="426.5" r="2.35"/><circle cx="121.4" cy="428.9" r="2.35"/><circle cx="118.8" cy="437.0" r="2.35"/><circle cx="126.0" cy="437.0" r="2.35"/><circle cx="130.0" cy="413.4" r="2.35"/><circle cx="135.8" cy="418.7" r="2.35"/><circle cx="144.4" cy="419.3" r="2.35"/><circle cx="144.4" cy="429.8" r="2.35"/><circle cx="136.5" cy="430.5" r="2.35"/><circle cx="152.3" cy="414.0" r="2.35"/><circle cx="137.8" cy="408.8" r="2.35"/><circle cx="108.9" cy="401.6" r="2.35"/><circle cx="112.2" cy="404.2" r="2.35"/><circle cx="105.6" cy="414.7" r="2.35"/><circle cx="104.3" cy="443.6" r="2.35"/><circle cx="119.4" cy="443.6" r="2.35"/><circle cx="158.8" cy="442.3" r="2.35"/><circle cx="167.4" cy="437.0" r="2.35"/><circle cx="99.7" cy="454.1" r="2.35"/><circle cx="147.7" cy="453.5" r="2.35"/><circle cx="162.1" cy="453.1" r="2.35"/><circle cx="128.0" cy="397.9" r="2.35"/><circle cx="165.4" cy="417.3" r="2.35"/><circle cx="205.2" cy="445.4" r="2.35"/><circle cx="19.9" cy="434.9" r="2.35"/></g>
<line x1="19.30" y1="438.40" x2="223.10" y2="438.40" stroke="#000" stroke-width="1" />
<line x1="121.20" y1="336.80" x2="121.20" y2="540.00" stroke="#000" stroke-width="1" />
<path d="M54.87,438.40v-3.5M121.20,372.07h3.5M187.53,438.40v-3.5M121.20,504.73h3.5" stroke="#000" stroke-width="1" fill="none"/>
<text x="121.20" y="328.90" font-size="13.6" text-anchor="middle" font-weight="normal" font-style="normal" fill="#000" >2.5</text>
<path d="M19.30,338.90h2.2M223.10,338.90h-2.2M19.30,372.07h2.2M223.10,372.07h-2.2M19.30,405.23h2.2M223.10,405.23h-2.2M19.30,471.56h2.2M223.10,471.56h-2.2M19.30,504.73h2.2M223.10,504.73h-2.2M19.30,537.89h2.2M223.10,537.89h-2.2M54.87,336.80v2.2M54.87,540.00v-2.2M187.53,336.80v2.2M187.53,540.00v-2.2" stroke="#000" stroke-width="1.2" fill="none"/>
<rect x="19.3" y="336.8" width="203.8" height="203.2" fill="none" stroke="#000" stroke-width="2"/>
<path d="M244.20,338.90H448.00M244.20,372.07H448.00M244.20,405.23H448.00M244.20,471.56H448.00M244.20,504.73H448.00M244.20,537.89H448.00M279.77,336.80V540.00M412.43,336.80V540.00" stroke="#8c8c8c" stroke-width="0.8" stroke-dasharray="2.3 1.4" fill="none"/>
<text x="342.90" y="376.50" font-size="12.5" text-anchor="end" font-weight="normal" font-style="normal" fill="#000" >100</text>
<text x="346.70" y="509.10" font-size="12.5" text-anchor="end" font-weight="normal" font-style="normal" fill="#000" >-100</text>
<text x="280.80" y="453.70" font-size="12.5" text-anchor="start" font-weight="normal" font-style="normal" fill="#000" >-100</text>
<text x="412.70" y="453.70" font-size="12.5" text-anchor="start" font-weight="normal" font-style="normal" fill="#000" >100</text>
<path d="M346.1,438.4 346.3,430.7 344.8,428.3 347.5,424.9 348.4,424.5 341.6,421.4 340.9,424.0 338.9,420.4 339.9,420.8 345.0,418.7 344.9,423.2 340.5,426.9 337.2,423.3 331.5,415.3 328.3,415.3M346.1,438.4 346.3,438.1 342.7,434.1 346.3,432.6 346.0,428.8 347.7,428.0 351.5,424.9 348.4,421.7 351.0,417.1 345.1,410.6 346.1,419.3 339.0,416.5 334.8,414.8M346.1,438.4 352.1,437.5 342.9,442.2 336.1,444.6 332.4,444.3 331.7,442.7 331.3,440.4 339.9,437.6 337.8,438.5 331.7,437.0 331.2,434.0 329.8,430.7 332.1,427.4 332.6,426.7 331.8,422.9 336.4,420.6M346.1,438.4 339.8,438.6 338.5,440.9 330.3,445.9 326.9,443.8 328.9,444.7 330.7,443.0 331.2,439.3 330.9,436.9 329.7,439.6 328.1,437.7 324.9,435.1 317.9,433.7 311.0,434.6 311.5,432.4 310.6,427.9 314.1,423.8 322.6,422.8 320.0,422.5M346.1,438.4 340.9,437.4 341.0,434.4 336.6,431.1 332.5,426.7 332.6,424.6 328.0,424.3 326.3,419.6 320.3,418.9 325.8,421.2 326.5,420.3 323.1,421.0 324.0,424.7 318.3,425.8 323.7,427.3 328.8,426.5M346.1,438.4 337.6,436.5 336.7,436.1 332.9,433.6 335.1,434.1 336.0,434.0 342.0,424.6 338.6,427.9 335.6,430.9 326.9,432.3 321.6,431.4 323.2,428.9M346.1,438.4 343.6,438.8 349.2,435.6 348.0,434.7 348.9,432.9 353.1,436.0 349.0,434.0 351.4,433.3 349.2,429.9 351.8,428.4 355.8,423.6 359.2,425.7 353.2,421.8 343.5,427.7 342.0,426.5M346.1,438.4 351.8,434.9 357.1,434.2 351.2,431.5 342.5,431.1 336.1,433.0 333.3,436.3 339.6,427.4 337.3,430.5 339.0,431.6 334.9,430.6 328.4,427.3 329.6,437.3 328.3,435.9 340.2,433.7 345.9,434.1 339.6,428.4 340.8,428.9 342.8,430.5M346.1,438.4 350.4,438.5 349.2,434.5 349.5,433.4 351.2,432.6 349.1,425.6 346.6,420.5 347.3,422.9 347.2,427.9 349.4,428.1 352.9,425.8 357.4,420.8 357.9,421.0 353.6,426.9 362.5,420.9 361.4,422.1 366.9,423.3M346.1,438.4 350.6,437.3 352.0,434.2 367.6,431.2 373.4,432.2 376.2,432.9 376.6,433.3 381.7,428.7 377.8,429.1 376.3,425.8 377.6,424.9 380.8,425.0 377.3,424.0 361.2,424.8 360.1,424.4 365.6,425.8 362.6,427.5 365.0,427.9 366.9,428.1M346.1,438.4 344.1,441.9 346.1,442.2 348.7,441.3 348.3,443.8 350.5,444.0 347.2,442.5 353.3,440.7 356.0,443.0 367.5,442.9 369.9,444.5 360.1,438.6 357.6,439.4 359.4,440.1 363.1,437.6 363.9,436.1 368.7,437.7 367.4,435.7M346.1,438.4 345.6,433.3 346.4,429.7 339.2,427.0 334.6,433.0 338.2,437.1 337.9,439.4 329.3,440.8 324.4,438.4 325.0,439.2 330.8,433.7M346.1,438.4 344.2,439.9 345.1,437.2 347.0,437.3 335.9,439.8 340.7,440.4 342.5,444.2 345.1,444.8 344.8,440.9 340.9,436.8 334.2,437.5 339.4,435.6 338.2,439.1 338.7,438.9 337.8,441.7 343.0,442.4 343.7,441.7 338.8,444.6 336.4,442.6M346.1,438.4 346.4,439.4 344.1,437.3 342.8,439.5 345.9,441.5 342.2,441.4 342.1,443.4 346.5,443.4 341.7,442.7 353.2,450.0 352.5,448.9 352.3,451.6 349.2,450.8 347.1,452.4 347.1,449.0 348.4,444.7 351.6,444.6M346.1,438.4 349.1,436.7 352.0,439.7 354.8,439.5 353.3,443.4 349.6,441.1 354.8,441.9 357.1,444.8 361.1,445.8 356.5,447.1 363.9,447.2 363.0,444.6 364.9,443.1 363.9,441.1 366.2,442.3 361.8,441.0M346.1,438.4 348.1,437.9 352.9,439.9 359.7,438.9 362.2,435.8 362.7,438.9 362.8,445.7 362.0,446.1 363.7,449.6 367.2,448.1 370.9,450.7 369.6,448.8 369.7,451.1 363.5,447.8 358.8,445.1 362.5,446.6 366.1,444.2M346.1,438.4 344.3,439.3 345.9,440.3 347.1,443.1 348.8,446.5 348.9,448.0 353.7,443.3 361.4,442.8 366.5,444.1 363.7,448.1 361.8,445.8 370.2,446.4 368.8,451.8 368.3,451.2 371.6,450.2 370.1,449.8 375.4,448.7M346.1,438.4 338.7,441.5 338.4,443.0 335.8,443.9 352.2,443.8 349.3,445.6 342.7,444.7 336.2,446.1 335.8,447.8 328.2,450.8 318.0,449.4 318.7,455.1M346.1,438.4 349.8,439.3 349.1,438.7 352.6,440.4 349.3,440.0 352.2,441.4 358.4,441.7 361.2,442.0 358.1,444.1 363.0,460.2 361.5,460.6 366.9,459.7M346.1,438.4 353.5,446.6 358.2,441.7 353.8,439.1 347.9,440.4 348.7,437.6 354.5,437.5 352.0,438.8 351.9,437.5 349.3,437.9 348.3,437.6 348.2,433.1 346.4,431.1 348.6,433.4 344.6,433.0 342.4,432.7 341.1,431.9 341.9,432.1 339.8,433.0M346.1,438.4 350.5,436.5 359.2,440.7 355.3,441.4 356.7,439.7 355.2,441.4 356.8,442.2 361.8,441.1 355.7,439.7 358.5,439.3 351.2,441.7 347.1,446.6 349.0,444.3 345.9,437.5 347.8,436.0M346.1,438.4 343.4,434.7 345.7,442.3 328.6,440.9 324.7,441.8 335.7,441.5 340.8,442.0 346.8,437.6 347.8,434.6 349.2,435.3 348.5,438.4 346.5,434.8 351.8,432.0M346.1,438.4 350.6,437.2 347.1,438.4 346.4,435.4 340.3,438.9 337.6,440.1 337.5,436.7 338.4,436.5 338.7,439.4 345.3,434.4 346.5,437.0 345.4,437.7 344.8,441.0M346.1,438.4 348.0,439.6 350.8,439.0 349.0,440.7 345.7,438.2 348.9,440.2 344.9,441.0 347.2,442.4 340.1,441.1 338.6,438.8 340.6,436.9 340.6,442.4 340.6,445.6 342.8,445.1 342.4,446.0 345.6,443.2 354.8,442.0 354.8,440.0M346.1,438.4 348.1,435.8 340.9,442.1 341.9,441.2 353.8,445.5 350.2,445.7 331.2,451.2 327.7,447.0 326.5,446.5 327.6,446.8 331.6,447.5 330.0,447.1 323.4,447.1 341.8,434.5 340.3,432.0 344.2,428.2 337.8,438.0M346.1,438.4 341.5,436.6 342.8,437.6 340.7,437.8 346.1,439.2 353.5,437.5 355.2,438.9 356.1,436.7 354.7,432.4 353.9,436.7 353.9,433.4 355.5,433.5 350.1,433.6 346.7,432.7 350.9,433.0 351.4,434.8 352.3,435.9 357.8,436.0M346.1,438.4 350.4,434.5 354.4,430.3 355.1,426.3 351.4,422.4 352.4,421.2 354.4,415.6 345.6,412.9 353.9,427.3 355.5,430.7 352.8,431.9 353.8,431.1 349.8,428.0M346.1,438.4 343.9,438.0 333.2,435.7 334.5,432.3 334.2,432.7 331.9,433.4 335.5,438.3 332.6,439.1 334.2,430.2 329.4,431.3 335.3,429.2 333.0,427.5 338.4,427.2 331.1,426.5 330.3,427.3 337.3,438.9 337.6,438.1 338.3,439.7 343.8,445.0M346.1,438.4 348.1,436.2 346.9,433.9 353.8,433.3 352.3,431.8 352.8,430.7 352.9,433.8 354.5,433.7 357.7,433.2 352.3,431.2 353.6,432.9 353.4,434.9 333.2,431.7 330.8,438.0 332.8,440.0M346.1,438.4 333.1,433.3 331.6,431.3 326.0,429.9 320.4,431.1 318.1,433.0 318.9,434.3 314.2,432.0 310.6,426.9 311.3,424.2 308.0,423.4 309.2,425.1 306.0,424.8 300.1,425.4M346.1,438.4 342.5,439.4 336.9,434.8 336.1,434.5 332.8,434.2 331.0,432.7 329.2,434.5 331.3,435.7 327.0,432.4 326.0,431.7 322.6,434.4 317.5,435.2 311.4,433.0 306.1,430.4M346.1,438.4 352.2,440.3 355.4,442.4 358.0,442.2 362.0,442.1 366.5,432.2 379.2,435.8 382.8,435.8 388.2,437.7 386.8,437.9 386.9,435.8 388.6,436.4 397.1,439.4M346.1,438.4 352.3,431.6 351.6,433.1 359.9,434.4 361.8,433.5 359.7,434.8 364.0,436.6 365.7,433.5 376.2,433.0 380.8,434.3 378.1,432.8 381.5,433.3 390.1,436.4M346.1,438.4 341.4,435.3 343.5,432.5 344.3,428.2 346.0,425.3 348.5,422.0 350.0,419.2 350.1,412.3 350.8,407.9 351.1,405.4M346.1,438.4 351.3,437.4 351.4,450.5 356.7,448.3 359.4,449.3 365.2,451.7 369.5,453.9 375.7,461.6 374.8,463.8 378.2,464.4 382.1,469.4M346.1,438.4 348.6,438.9 355.1,441.5 359.9,444.1 363.1,450.1 363.6,456.5 366.9,458.4 367.0,457.0 372.2,457.0 376.0,460.2 376.1,462.4M346.1,438.4 348.2,442.9 353.9,443.6 354.3,443.9 357.9,448.8 361.0,450.2 363.2,452.0 369.0,453.8 373.1,456.7 379.1,461.0 386.1,464.4M346.1,438.4 343.4,440.6 339.9,447.1 337.4,451.7 337.5,456.5 331.7,459.3 333.1,461.1 320.5,463.3 317.1,464.2 311.6,464.8 308.1,464.4M346.1,438.4 350.3,439.3 358.8,438.6 358.8,436.8 362.8,432.5 362.8,431.5 364.3,432.4 372.6,432.3 371.0,429.4 376.9,429.4 378.1,422.4M346.1,438.4 348.7,437.2 357.1,434.0 356.5,436.6 356.4,433.5 356.7,427.5 354.2,427.1 363.7,428.2 364.9,427.6 369.2,426.4 372.1,424.4M346.1,438.4 344.3,437.6 347.7,440.3 354.0,441.5 356.4,446.3 359.6,448.9 361.6,448.2 359.7,448.7 364.7,448.8 369.8,447.2 371.1,453.4M346.1,438.4 353.1,431.3 351.6,444.9 351.1,437.4 347.8,439.9 349.4,435.8 346.7,431.7 337.6,431.3 334.6,433.1 332.5,433.3 331.1,430.4M346.1,438.4 348.9,437.5 344.7,433.6 341.6,433.7 346.0,436.8 340.6,431.4 337.3,433.0 337.7,430.0 351.1,435.2 347.8,437.9 361.1,428.4M346.1,438.4 351.4,437.5 351.5,435.0 357.2,434.4 352.4,434.4 348.5,433.0 356.8,429.9 360.9,427.0 359.5,430.0 366.4,426.9 366.1,433.4M346.1,438.4 344.1,438.4 341.3,440.2 336.4,440.6 327.8,444.2 326.3,439.5 327.4,438.4 325.4,435.2 318.4,436.4 317.6,438.6 336.1,442.4M346.1,438.4 346.6,441.7 349.9,440.5 358.1,438.3 354.9,440.7 355.6,443.6 355.0,443.3 355.9,442.3 352.9,445.2 352.1,444.5 354.1,444.4M346.1,438.4 344.1,436.2 340.5,435.2 350.6,433.8 343.6,432.5 340.5,428.4 339.9,428.6 335.9,430.7 333.1,426.9 329.6,427.4 326.1,426.4M346.1,438.4 352.2,437.8 348.8,436.5 351.4,436.8 345.1,433.1 352.2,427.6 350.1,428.7 351.5,425.6 356.7,424.7 353.6,423.7 356.1,424.4M346.1,438.4 349.6,439.8 354.1,436.4 362.5,439.7 364.4,437.1 373.5,437.6 369.8,434.6 373.9,432.6 377.6,434.6 376.4,431.9 376.1,432.4M346.1,438.4 345.4,438.7 346.1,438.5 344.4,440.5 339.6,440.1 337.8,442.5 333.0,444.0 318.3,440.7 321.9,443.9 326.1,442.5 321.1,436.4M346.1,438.4 345.0,438.9 351.0,440.5 354.2,445.4 354.5,443.0 348.2,447.5 354.1,444.5 353.8,447.9 352.0,446.7 356.5,445.6 358.1,448.4M346.1,438.4 358.6,440.1 361.7,441.8 364.7,441.7 363.3,442.7 364.9,442.2 370.6,444.5 375.2,445.9 374.5,444.7 377.7,447.2 381.1,446.4M346.1,438.4 341.4,439.0 344.9,442.3 346.8,440.0 344.6,438.1 344.8,437.6 346.4,436.9 348.9,432.3 349.5,430.8 340.1,443.0 346.1,433.4M346.1,438.4 347.6,439.6 347.6,440.7 345.7,436.8 345.6,437.0 342.2,436.7 341.9,439.8 347.3,434.0 348.5,438.4 351.5,435.4 351.1,438.4" fill="none" stroke="#d95319" stroke-width="1.0" stroke-linejoin="round"/><g fill="#d95319" stroke="#3a1a0a" stroke-width="0.6"><circle cx="328.3" cy="415.3" r="2.25"/><circle cx="334.8" cy="414.8" r="2.25"/><circle cx="336.4" cy="420.6" r="2.25"/><circle cx="320.0" cy="422.5" r="2.25"/><circle cx="328.8" cy="426.5" r="2.25"/><circle cx="323.2" cy="428.9" r="2.25"/><circle cx="342.0" cy="426.5" r="2.25"/><circle cx="342.8" cy="430.5" r="2.25"/><circle cx="366.9" cy="423.3" r="2.25"/><circle cx="366.9" cy="428.1" r="2.25"/><circle cx="367.4" cy="435.7" r="2.25"/><circle cx="330.8" cy="433.7" r="2.25"/><circle cx="336.4" cy="442.6" r="2.25"/><circle cx="351.6" cy="444.6" r="2.25"/><circle cx="361.8" cy="441.0" r="2.25"/><circle cx="366.1" cy="444.2" r="2.25"/><circle cx="375.4" cy="448.7" r="2.25"/><circle cx="318.7" cy="455.1" r="2.25"/><circle cx="366.9" cy="459.7" r="2.25"/><circle cx="339.8" cy="433.0" r="2.25"/><circle cx="347.8" cy="436.0" r="2.25"/><circle cx="351.8" cy="432.0" r="2.25"/><circle cx="344.8" cy="441.0" r="2.25"/><circle cx="354.8" cy="440.0" r="2.25"/><circle cx="337.8" cy="438.0" r="2.25"/><circle cx="357.8" cy="436.0" r="2.25"/><circle cx="349.8" cy="428.0" r="2.25"/><circle cx="343.8" cy="445.0" r="2.25"/><circle cx="332.8" cy="440.0" r="2.25"/></g>
<line x1="244.20" y1="438.40" x2="448.00" y2="438.40" stroke="#000" stroke-width="1" />
<line x1="346.10" y1="336.80" x2="346.10" y2="540.00" stroke="#000" stroke-width="1" />
<path d="M279.77,438.40v-3.5M346.10,372.07h3.5M412.43,438.40v-3.5M346.10,504.73h3.5" stroke="#000" stroke-width="1" fill="none"/>
<text x="346.10" y="328.90" font-size="13.6" text-anchor="middle" font-weight="normal" font-style="normal" fill="#000" >4</text>
<path d="M244.20,338.90h2.2M448.00,338.90h-2.2M244.20,372.07h2.2M448.00,372.07h-2.2M244.20,405.23h2.2M448.00,405.23h-2.2M244.20,471.56h2.2M448.00,471.56h-2.2M244.20,504.73h2.2M448.00,504.73h-2.2M244.20,537.89h2.2M448.00,537.89h-2.2M279.77,336.80v2.2M279.77,540.00v-2.2M412.43,336.80v2.2M412.43,540.00v-2.2" stroke="#000" stroke-width="1.2" fill="none"/>
<rect x="244.2" y="336.8" width="203.8" height="203.2" fill="none" stroke="#000" stroke-width="2"/>
<path d="M468.30,338.90H672.10M468.30,372.07H672.10M468.30,405.23H672.10M468.30,471.56H672.10M468.30,504.73H672.10M468.30,537.89H672.10M503.87,336.80V540.00M636.53,336.80V540.00" stroke="#8c8c8c" stroke-width="0.8" stroke-dasharray="2.3 1.4" fill="none"/>
<text x="567.00" y="376.50" font-size="12.5" text-anchor="end" font-weight="normal" font-style="normal" fill="#000" >100</text>
<text x="570.80" y="509.10" font-size="12.5" text-anchor="end" font-weight="normal" font-style="normal" fill="#000" >-100</text>
<text x="504.90" y="453.70" font-size="12.5" text-anchor="start" font-weight="normal" font-style="normal" fill="#000" >-100</text>
<text x="636.80" y="453.70" font-size="12.5" text-anchor="start" font-weight="normal" font-style="normal" fill="#000" >100</text>
<path d="M570.2,438.4 569.4,437.5 567.8,436.9 565.3,437.5 564.5,435.3 565.4,433.3 565.5,431.9 565.5,430.2 565.6,426.4 565.3,425.5 566.7,422.7 564.9,421.7M570.2,438.4 570.7,435.1 565.3,435.6 555.6,436.5 552.9,434.4 551.8,432.2 554.1,432.1 556.1,432.0 552.7,430.7M570.2,438.4 569.0,437.7 567.9,437.3 565.7,435.3 564.6,433.8 566.4,431.6 566.5,432.7 566.6,431.5 564.5,429.4 564.6,428.6 564.9,431.0 562.4,432.0 563.6,433.1 563.2,432.2M570.2,438.4 570.0,436.3 570.5,433.2 570.3,433.1 570.5,434.1 568.1,433.8 567.3,431.3 567.1,429.8 568.7,430.3 568.2,428.3 568.4,427.5M570.2,438.4 571.5,434.5 571.2,435.5 571.3,434.3 572.9,433.7 570.8,430.9 570.8,430.6 569.1,430.9 571.4,430.5 573.2,430.5 574.1,429.9 573.8,428.0 573.1,425.8M570.2,438.4 575.4,437.5 573.8,435.6 574.5,433.9 573.5,432.1 573.6,430.1 572.0,428.9 574.3,427.9 575.4,425.8M570.2,438.4 568.7,436.8 568.3,435.5 564.0,436.5 566.7,435.9 569.1,435.2 566.7,434.4 568.1,433.9 567.4,433.1 566.7,432.2 566.0,430.1 566.9,429.0 572.1,429.8 572.6,429.0 573.7,430.1M570.2,438.4 570.3,438.1 566.9,437.5 572.7,438.9 572.8,442.7 573.1,441.5 572.3,441.7 573.3,437.8 576.0,434.5M570.2,438.4 570.6,438.4 569.9,437.8 569.9,437.5 568.6,437.1 568.5,436.7 568.9,436.6 570.7,437.4 573.1,437.9 571.8,437.7 574.6,435.8 574.1,434.8 570.7,433.1 570.2,434.2 573.1,434.5M570.2,438.4 571.2,438.7 571.7,438.7 571.8,437.0 570.0,437.7 567.9,436.1 566.2,437.7 568.8,436.5 569.7,435.3 569.2,437.0 567.3,436.3M570.2,438.4 570.4,437.5 568.2,438.0 567.1,439.6 565.6,438.8 566.7,438.9 566.5,438.4 567.1,439.8 567.5,440.5 564.9,441.5 567.4,440.8 570.2,441.5M570.2,438.4 569.2,439.5 571.3,440.4 573.6,440.3 573.0,441.0 576.7,441.6 579.0,445.8 579.2,442.7 579.7,442.3 580.3,443.7 582.1,443.4 583.0,443.0M570.2,438.4 570.0,438.8 568.8,439.4 570.5,437.7 568.3,440.4 568.7,442.4 570.8,441.9 573.5,442.3 571.3,441.3 573.2,442.1 570.6,442.5 571.5,443.4 573.3,444.8 575.1,447.0 574.3,448.9M570.2,438.4 571.4,438.4 571.9,436.8 571.6,437.7 569.8,437.7 571.0,436.9 571.4,436.2 569.8,434.2 570.4,434.3 568.7,432.7 567.3,431.0M570.2,438.4 569.5,438.8 571.8,438.1 573.9,436.7 575.5,436.8 578.3,435.6 581.2,435.3 583.0,435.7 586.1,435.6 585.6,434.1 587.2,433.4M570.2,438.4 570.1,438.2 570.2,438.3 570.8,436.8 573.5,437.1 575.8,436.4 576.9,436.8 578.8,435.8 581.7,435.6 584.5,435.8 586.2,435.4M570.2,438.4 571.5,437.4 573.8,438.5 575.9,438.0 576.0,437.5 576.4,436.3 578.1,435.2 577.9,434.5 577.7,435.1 582.6,433.9 584.2,434.4M570.2,438.4 568.8,438.7 568.3,438.0 568.4,439.4 568.4,440.6 567.0,442.0 564.9,443.5 564.7,445.3 564.1,446.4 563.1,447.3 562.2,447.4M570.2,438.4 569.7,438.8 570.5,440.6 568.9,441.0 567.3,440.9 565.6,441.6 564.0,441.7 563.8,442.9 562.8,442.5 560.8,443.9 561.2,445.4M570.2,438.4 571.0,439.3 571.2,440.0 570.7,441.0 564.0,440.5 563.2,440.9 564.5,442.2 563.8,444.0 564.1,446.2 564.2,447.3 564.2,448.4M570.2,438.4 570.1,437.9 569.5,438.9 570.5,438.9 573.2,439.8 574.4,440.0 577.3,440.9 579.4,441.6 580.0,441.7 579.8,443.2 580.2,442.4M570.2,438.4 571.5,438.7 571.7,438.1 575.8,436.3 577.2,436.5 577.8,437.5 579.2,437.0 580.5,437.9 579.2,438.9 579.0,438.7 582.2,438.4M570.2,438.4 569.5,439.5 569.5,440.6 569.8,441.5 569.1,442.6 572.8,443.5 574.7,446.1 572.9,446.6 573.8,447.5 573.4,449.2 574.2,450.4M570.2,438.4 570.2,437.8 570.3,437.6 570.4,436.8 571.4,435.7 569.8,434.8 569.7,433.2 566.2,433.8 565.4,433.3 565.7,431.9 567.2,430.4M570.2,438.4 570.2,436.9 569.4,436.2 569.0,433.9 570.4,433.1 573.2,432.8 573.8,432.5 572.8,431.6 573.1,430.7 571.7,428.8 572.2,428.4" fill="none" stroke="#edb120" stroke-width="1.1" stroke-linejoin="round"/><g fill="#edb120" stroke="#3a2a05" stroke-width="0.6"><circle cx="564.9" cy="421.7" r="2.8"/><circle cx="552.7" cy="430.7" r="2.8"/><circle cx="563.2" cy="432.2" r="2.8"/><circle cx="568.4" cy="427.5" r="2.8"/><circle cx="573.1" cy="425.8" r="2.8"/><circle cx="575.4" cy="425.8" r="2.8"/><circle cx="573.7" cy="430.1" r="2.8"/><circle cx="576.0" cy="434.5" r="2.8"/><circle cx="573.1" cy="434.5" r="2.8"/><circle cx="567.3" cy="436.3" r="2.8"/><circle cx="570.2" cy="441.5" r="2.8"/><circle cx="583.0" cy="443.0" r="2.8"/><circle cx="574.3" cy="448.9" r="2.8"/><circle cx="567.3" cy="431.0" r="2.8"/></g>
<line x1="468.30" y1="438.40" x2="672.10" y2="438.40" stroke="#000" stroke-width="1" />
<line x1="570.20" y1="336.80" x2="570.20" y2="540.00" stroke="#000" stroke-width="1" />
<path d="M503.87,438.40v-3.5M570.20,372.07h3.5M636.53,438.40v-3.5M570.20,504.73h3.5" stroke="#000" stroke-width="1" fill="none"/>
<text x="570.20" y="328.90" font-size="13.6" text-anchor="middle" font-weight="normal" font-style="normal" fill="#000" >6</text>
<path d="M468.30,338.90h2.2M672.10,338.90h-2.2M468.30,372.07h2.2M672.10,372.07h-2.2M468.30,405.23h2.2M672.10,405.23h-2.2M468.30,471.56h2.2M672.10,471.56h-2.2M468.30,504.73h2.2M672.10,504.73h-2.2M468.30,537.89h2.2M672.10,537.89h-2.2M503.87,336.80v2.2M503.87,540.00v-2.2M636.53,336.80v2.2M636.53,540.00v-2.2" stroke="#000" stroke-width="1.2" fill="none"/>
<rect x="468.3" y="336.8" width="203.8" height="203.2" fill="none" stroke="#000" stroke-width="2"/>
</svg>
</body></html>
